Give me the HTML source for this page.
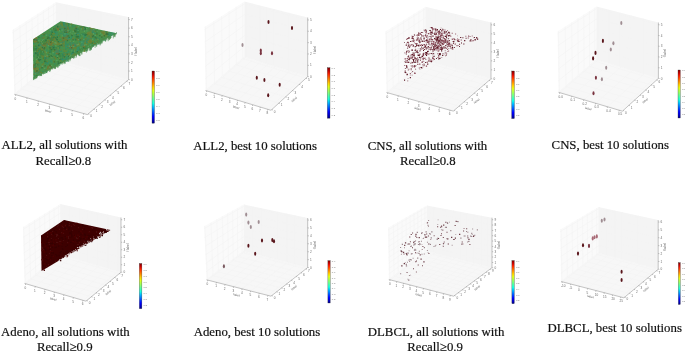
<!DOCTYPE html>
<html><head><meta charset="utf-8"><style>
html,body{margin:0;padding:0;background:#fff;}
body{width:685px;height:352px;overflow:hidden;position:relative;}
svg{position:absolute;left:0;top:0;filter:blur(0.45px);}
text{font-family:"Liberation Serif",serif;font-size:12.8px;fill:#111;stroke:#111;stroke-width:0.2px;}
g.tk text.cbt{font-size:2.5px;fill:#777;}
.tk text{font-family:"Liberation Sans",sans-serif;font-size:3.1px;fill:#6a6a6a;stroke:none;}
</style></head><body>
<svg width="685" height="352" viewBox="0 0 685 352">
<defs><filter id="soft" x="-5%" y="-5%" width="110%" height="110%"><feGaussianBlur stdDeviation="0.45"/></filter><linearGradient id="jet" x1="0" y1="1" x2="0" y2="0"><stop offset="0.000" stop-color="#00007f"/><stop offset="0.062" stop-color="#0000c7"/><stop offset="0.125" stop-color="#0000ff"/><stop offset="0.188" stop-color="#003fff"/><stop offset="0.250" stop-color="#007fff"/><stop offset="0.312" stop-color="#00bfff"/><stop offset="0.375" stop-color="#14ffe2"/><stop offset="0.438" stop-color="#47ffae"/><stop offset="0.500" stop-color="#7bff7b"/><stop offset="0.562" stop-color="#aeff47"/><stop offset="0.625" stop-color="#e2ff14"/><stop offset="0.688" stop-color="#ffd200"/><stop offset="0.750" stop-color="#ff9700"/><stop offset="0.812" stop-color="#ff5c00"/><stop offset="0.875" stop-color="#ff2100"/><stop offset="0.938" stop-color="#c70000"/><stop offset="1.000" stop-color="#7f0000"/></linearGradient></defs>
<polygon points="14.3,94.3 55.6,59.3 55.6,2.3 12.4,30" fill="#fafafa"/>
<polygon points="55.6,59.3 128.6,79.6 128.6,17 55.6,2.3" fill="#f4f4f4"/>
<polygon points="14.3,94.3 87.4,114.6 128.6,79.6 55.6,59.3" fill="#f7f7f7"/>
<path d="M15.8 94.7L57.1 59.7M56.9 59.7L56.9 2.6M27.1 97.9L68.4 62.9M67.4 62.6L67.4 4.7M38.4 101L79.7 66M78.2 65.6L78.2 6.9M49.8 104.1L91 69.1M89.3 68.7L89.3 9.1M61.1 107.3L102.3 72.3M100.7 71.8L100.7 11.4M72.4 110.4L113.6 75.4M112.5 75.1L112.5 13.8M83.7 113.6L125 78.6M124.6 78.5L124.6 16.2M15.1 93.6L88.2 113.9M15.2 93.5L13.4 29.4M20.6 88.9L93.7 109.2M21.4 88.3L19.9 25.2M26.1 84.3L99.2 104.6M27.3 83.3L26.1 21.2M31.6 79.6L104.7 99.9M33 78.5L32 17.4M37.1 75L110.1 95.3M38.5 73.8L37.8 13.7M42.6 70.3L115.6 90.6M43.8 69.3L43.3 10.2M48.1 65.7L121.1 86M48.9 65L48.6 6.8M53.5 61L126.5 81.3M53.8 60.8L53.7 3.5M14.3 94.3L55.6 59.3M55.6 59.3L128.6 79.6M14 85.8L55.6 51.7M55.6 51.5L128.6 71M13.8 77.2L55.6 44.1M55.6 43.7L128.6 62.4M13.5 68.5L55.6 36.4M55.6 35.8L128.6 53.8M13.3 59.7L55.6 28.6M55.6 28L128.6 45.3M13 50.8L55.6 20.7M55.6 20.2L128.6 36.7M12.7 41.8L55.6 12.7M55.6 12.4L128.6 28.1M12.5 32.7L55.6 4.7M55.6 4.6L128.6 19.5" stroke="#f3f3f3" stroke-width="0.6" fill="none"/>
<path d="M14.3 94.3L87.4 114.6L128.6 79.6L128.6 17M15.8 94.7l-0.3 1.2M27.1 97.9l-0.3 1.2M38.4 101l-0.3 1.2M49.8 104.1l-0.3 1.2M61.1 107.3l-0.3 1.2M72.4 110.4l-0.3 1.2M83.7 113.6l-0.3 1.2M88.2 113.9l1.1 0.4M93.7 109.2l1.1 0.4M99.2 104.6l1.1 0.4M104.7 99.9l1.1 0.4M110.1 95.3l1.1 0.4M115.6 90.6l1.1 0.4M121.1 86l1.1 0.4M126.5 81.3l1.1 0.4M128.6 79.6l1.2 0.1M128.6 71l1.2 0.1M128.6 62.4l1.2 0.1M128.6 53.8l1.2 0.1M128.6 45.3l1.2 0.1M128.6 36.7l1.2 0.1M128.6 28.1l1.2 0.1M128.6 19.5l1.2 0.1" stroke="#8a8a8a" stroke-width="0.5" fill="none"/>
<g class="tk"><text x="14.6" y="99.8">0</text><text x="25.9" y="103">1</text><text x="37.2" y="106.1">2</text><text x="48.6" y="109.2">3</text><text x="59.9" y="112.4">4</text><text x="71.2" y="115.5">5</text><text x="82.5" y="118.7">6</text><text x="90.2" y="117.1">0</text><text x="95.7" y="112.4">1</text><text x="101.2" y="107.8">2</text><text x="106.7" y="103.1">3</text><text x="112.1" y="98.5">4</text><text x="117.6" y="93.8">5</text><text x="123.1" y="89.2">6</text><text x="128.5" y="84.5">7</text><text x="131" y="80.7">0</text><text x="131" y="72.1">1</text><text x="131" y="63.5">2</text><text x="131" y="54.9">3</text><text x="131" y="46.4">4</text><text x="131" y="37.8">5</text><text x="131" y="29.2">6</text><text x="131" y="20.6">7</text><text x="44.7" y="111.9" transform="rotate(16 47.2 111.4)">label</text><text x="110" y="104.8" transform="rotate(-38 112 104.8)">label</text><text x="136.6" y="55.4" transform="rotate(-90 136.6 55.4)">f label</text></g>
<rect x="152" y="71" width="2.5" height="52.2" fill="url(#jet)" stroke="#333" stroke-width="0.3"/>
<g class="tk"><text class="cbt" x="156.1" y="72.4">0.9</text><text class="cbt" x="156.1" y="79.3">0.8</text><text class="cbt" x="156.1" y="86.2">0.7</text><text class="cbt" x="156.1" y="93.1">0.6</text><text class="cbt" x="156.1" y="99.9">0.5</text><text class="cbt" x="156.1" y="106.8">0.4</text><text class="cbt" x="156.1" y="113.7">0.3</text><text class="cbt" x="156.1" y="120.6">0.2</text></g>
<polygon points="205.5,90.5 244.5,56.8 244.5,1.5 204.5,27" fill="#fafafa"/>
<polygon points="244.5,56.8 307.7,76.6 307.7,17.5 244.5,1.5" fill="#f4f4f4"/>
<polygon points="205.5,90.5 271,110.3 307.7,76.6 244.5,56.8" fill="#f7f7f7"/>
<path d="M206.8 90.9L245.8 57.2M245.7 57.2L245.7 1.8M214.5 93.2L253.2 59.5M252.6 59.3L252.6 3.6M222.2 95.6L260.6 61.9M259.7 61.6L259.7 5.3M229.9 97.9L268 64.2M266.8 63.8L266.8 7.2M237.5 100.2L275.4 66.5M274.1 66.1L274.1 9M245.1 102.5L282.7 68.8M281.5 68.4L281.5 10.9M252.7 104.8L290 71.1M289 70.7L289 12.8M260.3 107.1L297.3 73.4M296.6 73.1L296.6 14.7M267.8 109.3L304.6 75.6M304.3 75.5L304.3 16.6M206.3 89.8L271.8 109.6M206.4 89.7L205.4 26.4M213.7 83.4L278.7 103.2M214.5 82.7L213.8 21.1M221 77.1L285.6 96.9M222.2 76.1L221.6 16.1M228.3 70.8L292.4 90.6M229.4 69.8L229.1 11.3M235.5 64.6L299.2 84.4M236.3 63.9L236.1 6.8M242.6 58.4L305.9 78.2M242.8 58.3L242.8 2.6M205.5 90.5L244.5 56.8M244.5 56.8L307.7 76.6M205.3 78.6L244.5 46.4M244.5 46.2L307.7 65.3M205.1 66.5L244.5 35.8M244.5 35.6L307.7 53.9M204.9 54.3L244.5 25.2M244.5 24.9L307.7 42.6M204.7 42L244.5 14.5M244.5 14.3L307.7 31.2M204.5 29.6L244.5 3.8M244.5 3.7L307.7 19.9" stroke="#f3f3f3" stroke-width="0.6" fill="none"/>
<path d="M205.5 90.5L271 110.3L307.7 76.6L307.7 17.5M206.8 90.9l-0.3 1.2M214.5 93.2l-0.3 1.2M222.2 95.6l-0.3 1.2M229.9 97.9l-0.3 1.2M237.5 100.2l-0.3 1.2M245.1 102.5l-0.3 1.2M252.7 104.8l-0.3 1.2M260.3 107.1l-0.3 1.2M267.8 109.3l-0.3 1.2M271.8 109.6l1.1 0.4M278.7 103.2l1.1 0.4M285.6 96.9l1.1 0.4M292.4 90.6l1.1 0.4M299.2 84.4l1.1 0.4M305.9 78.2l1.1 0.4M307.7 76.6l1.2 0.1M307.7 65.3l1.2 0.1M307.7 53.9l1.2 0.1M307.7 42.6l1.2 0.1M307.7 31.2l1.2 0.1M307.7 19.9l1.2 0.1" stroke="#8a8a8a" stroke-width="0.5" fill="none"/>
<g class="tk"><text x="205.6" y="96">0</text><text x="213.3" y="98.3">1</text><text x="221" y="100.7">2</text><text x="228.7" y="103">3</text><text x="236.3" y="105.3">4</text><text x="243.9" y="107.6">5</text><text x="251.5" y="109.9">6</text><text x="259.1" y="112.2">7</text><text x="266.6" y="114.4">8</text><text x="273.8" y="112.8">0</text><text x="280.7" y="106.4">1</text><text x="287.6" y="100.1">2</text><text x="294.4" y="93.8">3</text><text x="301.2" y="87.6">4</text><text x="307.9" y="81.4">5</text><text x="310.1" y="77.7">0</text><text x="310.1" y="66.4">1</text><text x="310.1" y="55">2</text><text x="310.1" y="43.7">3</text><text x="310.1" y="32.3">4</text><text x="310.1" y="21">5</text><text x="232.7" y="108" transform="rotate(16 235.2 107.5)">label</text><text x="291.8" y="100.9" transform="rotate(-38 293.8 100.9)">label</text><text x="315.7" y="54" transform="rotate(-90 315.7 54)">f label</text></g>
<rect x="327.3" y="67.7" width="2.7" height="50.5" fill="url(#jet)" stroke="#333" stroke-width="0.3"/>
<g class="tk"><text class="cbt" x="331.6" y="69.1">0.9</text><text class="cbt" x="331.6" y="75.7">0.8</text><text class="cbt" x="331.6" y="82.4">0.7</text><text class="cbt" x="331.6" y="89">0.6</text><text class="cbt" x="331.6" y="95.7">0.5</text><text class="cbt" x="331.6" y="102.3">0.4</text><text class="cbt" x="331.6" y="109">0.3</text><text class="cbt" x="331.6" y="115.6">0.2</text></g>
<polygon points="386.5,92.5 425.4,60.2 425.4,6.8 385.3,31.5" fill="#fafafa"/>
<polygon points="425.4,60.2 491,78.8 491,22.5 425.4,6.8" fill="#f4f4f4"/>
<polygon points="386.5,92.5 453.3,111.1 491,78.8 425.4,60.2" fill="#f7f7f7"/>
<path d="M387.8 92.9L426.7 60.6M426.6 60.6L426.6 7.1M398.3 95.8L437 63.5M436.4 63.3L436.4 9.4M408.7 98.7L447.2 66.4M446.3 66.1L446.3 11.8M419 101.6L457.3 69.3M456.4 69L456.4 14.2M429.4 104.4L467.5 72.1M466.6 71.9L466.6 16.7M439.7 107.3L477.6 75M477 74.8L477 19.1M450 110.2L487.7 77.9M487.6 77.8L487.6 21.7M387.3 91.8L454.1 110.4M387.4 91.8L386.2 30.9M392.5 87.5L459.1 106.1M393.2 86.9L392.2 27.2M397.7 83.2L464.2 101.8M398.8 82.3L398 23.7M402.9 78.9L469.2 97.5M404.2 77.8L403.6 20.3M408.1 74.6L474.2 93.2M409.3 73.5L408.9 17M413.2 70.3L479.2 88.9M414.3 69.4L414 13.8M418.4 66L484.2 84.6M419.1 65.4L418.9 10.8M423.5 61.8L489.1 80.4M423.7 61.6L423.7 7.9M386.5 92.5L425.4 60.2M425.4 60.2L491 78.8M386.3 83L425.4 51.8M425.4 51.7L491 69.8M386.1 73.4L425.4 43.4M425.4 43.1L491 60.8M385.9 63.7L425.4 34.9M425.4 34.6L491 51.8M385.7 53.9L425.4 26.3M425.4 26L491 42.8M385.5 44L425.4 17.7M425.4 17.5L491 33.8M385.3 34L425.4 9M425.4 8.9L491 24.8" stroke="#f3f3f3" stroke-width="0.6" fill="none"/>
<path d="M386.5 92.5L453.3 111.1L491 78.8L491 22.5M387.8 92.9l-0.3 1.2M398.3 95.8l-0.3 1.2M408.7 98.7l-0.3 1.2M419 101.6l-0.3 1.2M429.4 104.4l-0.3 1.2M439.7 107.3l-0.3 1.2M450 110.2l-0.3 1.2M454.1 110.4l1.1 0.4M459.1 106.1l1.1 0.4M464.2 101.8l1.1 0.4M469.2 97.5l1.1 0.4M474.2 93.2l1.1 0.4M479.2 88.9l1.1 0.4M484.2 84.6l1.1 0.4M489.1 80.4l1.1 0.4M491 78.8l1.2 0.1M491 69.8l1.2 0.1M491 60.8l1.2 0.1M491 51.8l1.2 0.1M491 42.8l1.2 0.1M491 33.8l1.2 0.1M491 24.8l1.2 0.1" stroke="#8a8a8a" stroke-width="0.5" fill="none"/>
<g class="tk"><text x="386.6" y="98">0</text><text x="397.1" y="100.9">1</text><text x="407.5" y="103.8">2</text><text x="417.8" y="106.7">3</text><text x="428.2" y="109.5">4</text><text x="438.5" y="112.4">5</text><text x="448.8" y="115.3">6</text><text x="456.1" y="113.6">0</text><text x="461.1" y="109.3">1</text><text x="466.2" y="105">2</text><text x="471.2" y="100.7">3</text><text x="476.2" y="96.4">4</text><text x="481.2" y="92.1">5</text><text x="486.2" y="87.8">6</text><text x="491.1" y="83.6">7</text><text x="493.4" y="79.9">0</text><text x="493.4" y="70.9">1</text><text x="493.4" y="61.9">2</text><text x="493.4" y="52.9">3</text><text x="493.4" y="43.9">4</text><text x="493.4" y="34.9">5</text><text x="493.4" y="25.9">6</text><text x="414.2" y="109.4" transform="rotate(16 416.7 108.9)">label</text><text x="474.4" y="102.5" transform="rotate(-38 476.4 102.5)">label</text><text x="499" y="57.5" transform="rotate(-90 499 57.5)">f label</text></g>
<rect x="511.7" y="71" width="2.7" height="47.6" fill="url(#jet)" stroke="#333" stroke-width="0.3"/>
<g class="tk"><text class="cbt" x="516" y="72.4">0.9</text><text class="cbt" x="516" y="78.6">0.8</text><text class="cbt" x="516" y="84.9">0.7</text><text class="cbt" x="516" y="91.1">0.6</text><text class="cbt" x="516" y="97.3">0.5</text><text class="cbt" x="516" y="103.5">0.4</text><text class="cbt" x="516" y="109.8">0.3</text><text class="cbt" x="516" y="116">0.2</text></g>
<polygon points="558.5,92.3 596.5,59.5 596.5,6.5 557.5,31.5" fill="#fafafa"/>
<polygon points="596.5,59.5 658.4,78.4 658.4,22.5 596.5,6.5" fill="#f4f4f4"/>
<polygon points="558.5,92.3 622.4,111.2 658.4,78.4 596.5,59.5" fill="#f7f7f7"/>
<path d="M559.8 92.7L597.8 59.9M597.7 59.9L597.7 6.8M571.8 96.2L609.4 63.4M608.7 63.2L608.7 9.7M583.8 99.8L621 67M620 66.7L620 12.6M595.6 103.3L632.5 70.5M631.5 70.2L631.5 15.5M607.5 106.8L643.9 74M643.2 73.8L643.2 18.6M619.2 110.3L655.3 77.5M655.1 77.4L655.1 21.7M559.3 91.6L623.1 110.5M559.4 91.5L558.4 30.9M565.3 86.4L628.8 105.3M566 85.8L565.2 26.6M571.2 81.3L634.5 100.2M572.3 80.4L571.7 22.4M577.2 76.2L640.1 95.1M578.3 75.2L577.9 18.4M583 71.1L645.6 90M584.1 70.2L583.8 14.6M588.9 66.1L651.2 85M589.6 65.5L589.4 11M594.6 61.1L656.6 80M594.8 60.9L594.8 7.6M558.5 92.3L596.5 59.5M596.5 59.5L658.4 78.4M558.3 80.9L596.5 49.5M596.5 49.3L658.4 67.7M558.1 69.3L596.5 39.4M596.5 39.1L658.4 56.9M557.9 57.7L596.5 29.3M596.5 29L658.4 46.2M557.7 45.9L596.5 19M596.5 18.8L658.4 35.5M557.5 34L596.5 8.7M596.5 8.6L658.4 24.7" stroke="#f3f3f3" stroke-width="0.6" fill="none"/>
<path d="M558.5 92.3L622.4 111.2L658.4 78.4L658.4 22.5M559.8 92.7l-0.3 1.2M571.8 96.2l-0.3 1.2M583.8 99.8l-0.3 1.2M595.6 103.3l-0.3 1.2M607.5 106.8l-0.3 1.2M619.2 110.3l-0.3 1.2M623.1 110.5l1.1 0.4M628.8 105.3l1.1 0.4M634.5 100.2l1.1 0.4M640.1 95.1l1.1 0.4M645.6 90l1.1 0.4M651.2 85l1.1 0.4M656.6 80l1.1 0.4M658.4 78.4l1.2 0.1M658.4 67.7l1.2 0.1M658.4 56.9l1.2 0.1M658.4 46.2l1.2 0.1M658.4 35.5l1.2 0.1M658.4 24.7l1.2 0.1" stroke="#8a8a8a" stroke-width="0.5" fill="none"/>
<g class="tk"><text x="558.6" y="97.8">0.0</text><text x="570.6" y="101.3">0.1</text><text x="582.6" y="104.9">0.2</text><text x="594.4" y="108.4">0.3</text><text x="606.3" y="111.9">0.4</text><text x="618" y="115.4">0.5</text><text x="625.1" y="113.7">0</text><text x="630.8" y="108.5">1</text><text x="636.5" y="103.4">2</text><text x="642.1" y="98.3">3</text><text x="647.6" y="93.2">4</text><text x="653.2" y="88.2">5</text><text x="658.6" y="83.2">6</text><text x="660.8" y="79.5">0</text><text x="660.8" y="68.8">1</text><text x="660.8" y="58">2</text><text x="660.8" y="47.3">3</text><text x="660.8" y="36.6">4</text><text x="660.8" y="25.8">5</text><text x="585" y="109.4" transform="rotate(16 587.5 108.9)">label</text><text x="642.8" y="102.2" transform="rotate(-38 644.8 102.2)">label</text><text x="666.4" y="57.2" transform="rotate(-90 666.4 57.2)">f label</text></g>
<rect x="678" y="70" width="2.3" height="48" fill="url(#jet)" stroke="#333" stroke-width="0.3"/>
<g class="tk"><text class="cbt" x="681.9" y="71.4">0.9</text><text class="cbt" x="681.9" y="77.7">0.8</text><text class="cbt" x="681.9" y="84">0.7</text><text class="cbt" x="681.9" y="90.3">0.6</text><text class="cbt" x="681.9" y="96.5">0.5</text><text class="cbt" x="681.9" y="102.8">0.4</text><text class="cbt" x="681.9" y="109.1">0.3</text><text class="cbt" x="681.9" y="115.4">0.2</text></g>
<polygon points="24.5,283.4 60.2,254.4 60.2,204 22.8,227.2" fill="#fafafa"/>
<polygon points="60.2,254.4 121,272.2 121,217.5 60.2,204" fill="#f4f4f4"/>
<polygon points="24.5,283.4 86,301.2 121,272.2 60.2,254.4" fill="#f7f7f7"/>
<path d="M25.7 283.8L61.4 254.8M61.3 254.7L61.3 204.2M35.3 286.5L70.9 257.5M70.1 257.3L70.1 206.2M44.9 289.3L80.3 260.3M79.2 260L79.2 208.2M54.4 292.1L89.8 263.1M88.4 262.7L88.4 210.3M63.9 294.8L99.2 265.8M98 265.5L98 212.4M73.4 297.6L108.6 268.6M107.7 268.3L107.7 214.5M82.9 300.3L118 271.3M117.7 271.2L117.7 216.8M25.2 282.8L86.7 300.6M25.3 282.7L23.7 226.7M30 278.9L91.4 296.7M30.6 278.5L29.2 223.2M34.8 275.1L96.1 292.9M35.7 274.3L34.5 219.9M39.5 271.2L100.7 289M40.6 270.4L39.7 216.7M44.3 267.3L105.4 285.1M45.3 266.5L44.6 213.6M49 263.5L110 281.3M49.9 262.8L49.4 210.7M53.7 259.7L114.6 277.5M54.3 259.2L54.1 207.8M58.4 255.8L119.3 273.6M58.6 255.7L58.6 205M24.5 283.4L60.2 254.4M60.2 254.4L121 272.2M24.3 276L60.2 247.7M60.2 247.5L121 264.7M24 268.5L60.2 241M60.2 240.6L121 257.2M23.8 260.9L60.2 234.2M60.2 233.7L121 249.7M23.6 253.2L60.2 227.3M60.2 226.8L121 242.2M23.4 245.4L60.2 220.3M60.2 219.8L121 234.7M23.1 237.5L60.2 213.2M60.2 212.9L121 227.2M22.9 229.6L60.2 206.1M60.2 206L121 219.7" stroke="#f3f3f3" stroke-width="0.6" fill="none"/>
<path d="M24.5 283.4L86 301.2L121 272.2L121 217.5M25.7 283.8l-0.3 1.2M35.3 286.5l-0.3 1.2M44.9 289.3l-0.3 1.2M54.4 292.1l-0.3 1.2M63.9 294.8l-0.3 1.2M73.4 297.6l-0.3 1.2M82.9 300.3l-0.3 1.2M86.7 300.6l1.1 0.4M91.4 296.7l1.1 0.4M96.1 292.9l1.1 0.4M100.7 289l1.1 0.4M105.4 285.1l1.1 0.4M110 281.3l1.1 0.4M114.6 277.5l1.1 0.4M119.3 273.6l1.1 0.4M121 272.2l1.2 0.1M121 264.7l1.2 0.1M121 257.2l1.2 0.1M121 249.7l1.2 0.1M121 242.2l1.2 0.1M121 234.7l1.2 0.1M121 227.2l1.2 0.1M121 219.7l1.2 0.1" stroke="#8a8a8a" stroke-width="0.5" fill="none"/>
<g class="tk"><text x="24.5" y="288.9">0</text><text x="34.1" y="291.6">1</text><text x="43.7" y="294.4">2</text><text x="53.2" y="297.2">3</text><text x="62.7" y="299.9">4</text><text x="72.2" y="302.7">5</text><text x="81.7" y="305.4">6</text><text x="88.7" y="303.8">0</text><text x="93.4" y="299.9">1</text><text x="98.1" y="296.1">2</text><text x="102.7" y="292.2">3</text><text x="107.4" y="288.3">4</text><text x="112" y="284.5">5</text><text x="116.6" y="280.7">6</text><text x="121.3" y="276.8">7</text><text x="123.4" y="273.3">0</text><text x="123.4" y="265.8">1</text><text x="123.4" y="258.3">2</text><text x="123.4" y="250.8">3</text><text x="123.4" y="243.3">4</text><text x="123.4" y="235.8">5</text><text x="123.4" y="228.3">6</text><text x="123.4" y="220.8">7</text><text x="49.8" y="299.9" transform="rotate(16 52.3 299.4)">label</text><text x="105.8" y="294.1" transform="rotate(-38 107.8 294.1)">label</text><text x="129" y="251.6" transform="rotate(-90 129 251.6)">f label</text></g>
<rect x="139.3" y="263.5" width="2.6" height="45.2" fill="url(#jet)" stroke="#333" stroke-width="0.3"/>
<g class="tk"><text class="cbt" x="143.5" y="264.9">0.9</text><text class="cbt" x="143.5" y="270.8">0.8</text><text class="cbt" x="143.5" y="276.7">0.7</text><text class="cbt" x="143.5" y="282.6">0.6</text><text class="cbt" x="143.5" y="288.4">0.5</text><text class="cbt" x="143.5" y="294.3">0.4</text><text class="cbt" x="143.5" y="300.2">0.3</text><text class="cbt" x="143.5" y="306.1">0.2</text></g>
<polygon points="206.5,279.8 243.7,251.1 243.7,204.4 204,226.3" fill="#fafafa"/>
<polygon points="243.7,251.1 307.7,267.5 307.7,218 243.7,204.4" fill="#f4f4f4"/>
<polygon points="206.5,279.8 271,296.2 307.7,267.5 243.7,251.1" fill="#f7f7f7"/>
<path d="M207.8 280.1L245 251.4M244.9 251.4L244.9 204.7M216.4 282.3L253.5 253.6M253 253.5L253 206.4M225 284.5L262 255.8M261.2 255.6L261.2 208.1M233.6 286.7L270.5 258M269.6 257.7L269.6 209.9M242.1 288.9L279 260.2M278.1 259.9L278.1 211.7M250.7 291L287.5 262.3M286.7 262.1L286.7 213.5M259.2 293.2L296 264.5M295.4 264.4L295.4 215.4M267.8 295.4L304.5 266.7M304.3 266.6L304.3 217.3M207.2 279.2L271.7 295.6M207.4 279.1L204.9 225.8M212.2 275.4L276.6 291.8M213 274.8L211 222.4M217.2 271.6L281.5 288M218.4 270.6L216.8 219.2M222.1 267.7L286.4 284.1M223.5 266.6L222.3 216.2M227.1 263.9L291.3 280.3M228.5 262.8L227.6 213.3M232 260.1L296.2 276.5M233.2 259.2L232.6 210.5M236.9 256.3L301 272.7M237.7 255.7L237.4 207.9M241.9 252.5L305.9 268.9M242.1 252.3L242 205.3M206.5 279.8L243.7 251.1M243.7 251.1L307.7 267.5M206.1 271.7L243.7 244M243.7 243.6L307.7 259.6M205.7 263.4L243.7 236.7M243.7 236.2L307.7 251.7M205.3 255L243.7 229.3M243.7 228.7L307.7 243.7M204.9 246.4L243.7 221.8M243.7 221.2L307.7 235.8M204.5 237.6L243.7 214.2M243.7 213.7L307.7 227.9M204.1 228.6L243.7 206.4M243.7 206.3L307.7 220" stroke="#f3f3f3" stroke-width="0.6" fill="none"/>
<path d="M206.5 279.8L271 296.2L307.7 267.5L307.7 218M207.8 280.1l-0.3 1.2M216.4 282.3l-0.3 1.2M225 284.5l-0.3 1.2M233.6 286.7l-0.3 1.2M242.1 288.9l-0.3 1.2M250.7 291l-0.3 1.2M259.2 293.2l-0.3 1.2M267.8 295.4l-0.3 1.2M271.7 295.6l1.1 0.4M276.6 291.8l1.1 0.4M281.5 288l1.1 0.4M286.4 284.1l1.1 0.4M291.3 280.3l1.1 0.4M296.2 276.5l1.1 0.4M301 272.7l1.1 0.4M305.9 268.9l1.1 0.4M307.7 267.5l1.2 0.1M307.7 259.6l1.2 0.1M307.7 251.7l1.2 0.1M307.7 243.7l1.2 0.1M307.7 235.8l1.2 0.1M307.7 227.9l1.2 0.1M307.7 220l1.2 0.1" stroke="#8a8a8a" stroke-width="0.5" fill="none"/>
<g class="tk"><text x="206.6" y="285.2">0</text><text x="215.2" y="287.4">1</text><text x="223.8" y="289.6">2</text><text x="232.4" y="291.8">3</text><text x="240.9" y="294">4</text><text x="249.5" y="296.1">5</text><text x="258" y="298.3">6</text><text x="266.6" y="300.5">7</text><text x="273.7" y="298.8">0</text><text x="278.6" y="295">1</text><text x="283.5" y="291.2">2</text><text x="288.4" y="287.3">3</text><text x="293.3" y="283.5">4</text><text x="298.2" y="279.7">5</text><text x="303" y="275.9">6</text><text x="307.9" y="272.1">7</text><text x="310.1" y="268.6">0</text><text x="310.1" y="260.7">1</text><text x="310.1" y="252.8">2</text><text x="310.1" y="244.8">3</text><text x="310.1" y="236.9">4</text><text x="310.1" y="229">5</text><text x="310.1" y="221.1">6</text><text x="233.1" y="295.7" transform="rotate(16 235.6 295.2)">label</text><text x="291.6" y="289.2" transform="rotate(-38 293.6 289.2)">label</text><text x="315.7" y="249.2" transform="rotate(-90 315.7 249.2)">f label</text></g>
<rect x="327.9" y="260.6" width="2.3" height="42.4" fill="url(#jet)" stroke="#333" stroke-width="0.3"/>
<g class="tk"><text class="cbt" x="331.8" y="262">0.9</text><text class="cbt" x="331.8" y="267.5">0.8</text><text class="cbt" x="331.8" y="273">0.7</text><text class="cbt" x="331.8" y="278.5">0.6</text><text class="cbt" x="331.8" y="283.9">0.5</text><text class="cbt" x="331.8" y="289.4">0.4</text><text class="cbt" x="331.8" y="294.9">0.3</text><text class="cbt" x="331.8" y="300.4">0.2</text></g>
<polygon points="388.8,279.5 426.7,251 426.7,205.4 388,227.8" fill="#fafafa"/>
<polygon points="426.7,251 492,267.7 492,217.7 426.7,205.4" fill="#f4f4f4"/>
<polygon points="388.8,279.5 453.6,296.2 492,267.7 426.7,251" fill="#f7f7f7"/>
<path d="M390.1 279.8L428 251.3M427.9 251.3L427.9 205.6M396.8 281.6L434.7 253.1M434.1 252.9L434.1 206.8M403.5 283.3L441.5 254.8M440.5 254.5L440.5 208M410.1 285L448.2 256.5M446.9 256.2L446.9 209.2M416.8 286.7L454.9 258.2M453.5 257.9L453.5 210.5M423.5 288.4L461.7 259.9M460.2 259.6L460.2 211.7M430.2 290.2L468.4 261.7M467.1 261.3L467.1 213M436.9 291.9L475.2 263.4M474.1 263.1L474.1 214.3M443.6 293.6L482 265.1M481.2 264.9L481.2 215.7M450.3 295.4L488.7 266.9M488.4 266.8L488.4 217M389.6 278.9L454.4 295.6M389.7 278.8L388.9 227.3M393.5 276L458.3 292.7M394.1 275.5L393.4 224.7M397.4 273.1L462.3 289.8M398.3 272.3L397.7 222.2M401.3 270.1L466.2 286.8M402.5 269.2L402 219.7M405.2 267.2L470.2 283.9M406.5 266.2L406.1 217.3M409.1 264.2L474.2 280.9M410.4 263.3L410.1 215M413 261.3L478.1 278M414.2 260.4L414 212.8M416.9 258.3L482.1 275M417.9 257.6L417.7 210.6M420.9 255.4L486.1 272.1M421.5 254.9L421.4 208.5M424.8 252.4L490.1 269.1M425 252.3L425 206.4M388.8 279.5L426.7 251M426.7 251L492 267.7M388.7 274.1L426.7 246.2M426.7 246.1L492 262.4M388.6 268.7L426.7 241.4M426.7 241.3L492 257M388.5 263.2L426.7 236.6M426.7 236.4L492 251.7M388.5 257.7L426.7 231.7M426.7 231.5L492 246.4M388.4 252.2L426.7 226.9M426.7 226.7L492 241M388.3 246.7L426.7 222M426.7 221.8L492 235.7M388.2 241.1L426.7 217.1M426.7 217L492 230.4M388.1 235.5L426.7 212.2M426.7 212.1L492 225M388 229.9L426.7 207.3M426.7 207.2L492 219.7" stroke="#f3f3f3" stroke-width="0.6" fill="none"/>
<path d="M388.8 279.5L453.6 296.2L492 267.7L492 217.7M390.1 279.8l-0.3 1.2M396.8 281.6l-0.3 1.2M403.5 283.3l-0.3 1.2M410.1 285l-0.3 1.2M416.8 286.7l-0.3 1.2M423.5 288.4l-0.3 1.2M430.2 290.2l-0.3 1.2M436.9 291.9l-0.3 1.2M443.6 293.6l-0.3 1.2M450.3 295.4l-0.3 1.2M454.4 295.6l1.1 0.4M458.3 292.7l1.1 0.4M462.3 289.8l1.1 0.4M466.2 286.8l1.1 0.4M470.2 283.9l1.1 0.4M474.2 280.9l1.1 0.4M478.1 278l1.1 0.4M482.1 275l1.1 0.4M486.1 272.1l1.1 0.4M490.1 269.1l1.1 0.4M492 267.7l1.2 0.1M492 262.4l1.2 0.1M492 257l1.2 0.1M492 251.7l1.2 0.1M492 246.4l1.2 0.1M492 241l1.2 0.1M492 235.7l1.2 0.1M492 230.4l1.2 0.1M492 225l1.2 0.1M492 219.7l1.2 0.1" stroke="#8a8a8a" stroke-width="0.5" fill="none"/>
<g class="tk"><text x="388.9" y="284.9">0</text><text x="395.6" y="286.7">1</text><text x="402.3" y="288.4">2</text><text x="408.9" y="290.1">3</text><text x="415.6" y="291.8">4</text><text x="422.3" y="293.5">5</text><text x="429" y="295.3">6</text><text x="435.7" y="297">7</text><text x="442.4" y="298.7">8</text><text x="449.1" y="300.5">9</text><text x="456.4" y="298.8">0</text><text x="460.3" y="295.9">1</text><text x="464.3" y="293">2</text><text x="468.2" y="290">3</text><text x="472.2" y="287.1">4</text><text x="476.2" y="284.1">5</text><text x="480.1" y="281.2">6</text><text x="484.1" y="278.2">7</text><text x="488.1" y="275.3">8</text><text x="492.1" y="272.3">9</text><text x="494.4" y="268.8">0</text><text x="494.4" y="263.5">1</text><text x="494.4" y="258.1">2</text><text x="494.4" y="252.8">3</text><text x="494.4" y="247.5">4</text><text x="494.4" y="242.1">5</text><text x="494.4" y="236.8">6</text><text x="494.4" y="231.5">7</text><text x="494.4" y="226.1">8</text><text x="494.4" y="220.8">9</text><text x="415.4" y="295.5" transform="rotate(16 417.9 295)">label</text><text x="474.8" y="289.4" transform="rotate(-38 476.8 289.4)">label</text><text x="500" y="249.2" transform="rotate(-90 500 249.2)">f label</text></g>
<rect x="511.9" y="260.5" width="2.4" height="43.2" fill="url(#jet)" stroke="#333" stroke-width="0.3"/>
<g class="tk"><text class="cbt" x="515.9" y="261.9">0.9</text><text class="cbt" x="515.9" y="267.5">0.8</text><text class="cbt" x="515.9" y="273.1">0.7</text><text class="cbt" x="515.9" y="278.7">0.6</text><text class="cbt" x="515.9" y="284.3">0.5</text><text class="cbt" x="515.9" y="289.9">0.4</text><text class="cbt" x="515.9" y="295.5">0.3</text><text class="cbt" x="515.9" y="301.1">0.2</text></g>
<polygon points="561,281.5 598.4,253 598.4,207 560.2,229.5" fill="#fafafa"/>
<polygon points="598.4,253 658.2,269.3 658.2,220 598.4,207" fill="#f4f4f4"/>
<polygon points="561,281.5 623.9,297.8 658.2,269.3 598.4,253" fill="#f7f7f7"/>
<path d="M562.3 281.8L599.6 253.3M599.5 253.3L599.5 207.2M570.8 284L607.7 255.5M607 255.3L607 208.9M579.3 286.2L615.7 257.7M614.7 257.4L614.7 210.5M587.7 288.4L623.7 259.9M622.4 259.5L622.4 212.2M596 290.6L631.7 262.1M630.3 261.7L630.3 213.9M604.3 292.7L639.6 264.2M638.4 263.9L638.4 215.7M612.6 294.9L647.5 266.4M646.6 266.1L646.6 217.5M620.8 297L655.3 268.5M655 268.4L655 219.3M561.8 280.9L624.6 297.2M561.9 280.9L561.1 229M566.9 277L629.3 293.3M567.4 276.6L566.7 225.7M572 273.1L634 289.4M572.7 272.6L572.2 222.4M577 269.3L638.6 285.6M577.9 268.6L577.4 219.3M582 265.5L643.1 281.8M582.8 264.9L582.5 216.4M586.9 261.8L647.6 278.1M587.6 261.2L587.4 213.5M591.8 258.1L652.1 274.4M592.3 257.7L592.1 210.7M596.6 254.4L656.5 270.7M596.8 254.3L596.7 208M561 281.5L598.4 253M598.4 253L658.2 269.3M560.9 273.3L598.4 245.8M598.4 245.6L658.2 261.4M560.7 265.1L598.4 238.5M598.4 238.3L658.2 253.5M560.6 256.8L598.4 231.1M598.4 230.9L658.2 245.6M560.5 248.5L598.4 223.8M598.4 223.6L658.2 237.7M560.4 240.1L598.4 216.3M598.4 216.2L658.2 229.9M560.2 231.6L598.4 208.9M598.4 208.8L658.2 222" stroke="#f3f3f3" stroke-width="0.6" fill="none"/>
<path d="M561 281.5L623.9 297.8L658.2 269.3L658.2 220M562.3 281.8l-0.3 1.2M570.8 284l-0.3 1.2M579.3 286.2l-0.3 1.2M587.7 288.4l-0.3 1.2M596 290.6l-0.3 1.2M604.3 292.7l-0.3 1.2M612.6 294.9l-0.3 1.2M620.8 297l-0.3 1.2M624.6 297.2l1.1 0.4M629.3 293.3l1.1 0.4M634 289.4l1.1 0.4M638.6 285.6l1.1 0.4M643.1 281.8l1.1 0.4M647.6 278.1l1.1 0.4M652.1 274.4l1.1 0.4M656.5 270.7l1.1 0.4M658.2 269.3l1.2 0.1M658.2 261.4l1.2 0.1M658.2 253.5l1.2 0.1M658.2 245.6l1.2 0.1M658.2 237.7l1.2 0.1M658.2 229.9l1.2 0.1M658.2 222l1.2 0.1" stroke="#8a8a8a" stroke-width="0.5" fill="none"/>
<g class="tk"><text x="561.1" y="286.9">-10</text><text x="569.6" y="289.1">-5</text><text x="578.1" y="291.3">0</text><text x="586.5" y="293.5">5</text><text x="594.8" y="295.7">10</text><text x="603.1" y="297.8">15</text><text x="611.4" y="300">20</text><text x="619.6" y="302.1">25</text><text x="626.6" y="300.4">0</text><text x="631.3" y="296.5">1</text><text x="636" y="292.6">2</text><text x="640.6" y="288.8">3</text><text x="645.1" y="285">4</text><text x="649.6" y="281.3">5</text><text x="654.1" y="277.6">6</text><text x="658.5" y="273.9">7</text><text x="660.6" y="270.4">0</text><text x="660.6" y="262.5">1</text><text x="660.6" y="254.6">2</text><text x="660.6" y="246.7">3</text><text x="660.6" y="238.8">4</text><text x="660.6" y="231">5</text><text x="660.6" y="223.1">6</text><text x="587.1" y="297.4" transform="rotate(16 589.6 296.9)">label</text><text x="643.7" y="290.7" transform="rotate(-38 645.7 290.7)">label</text><text x="666.2" y="251.1" transform="rotate(-90 666.2 251.1)">f label</text></g>
<rect x="678.3" y="262.6" width="2" height="41.9" fill="url(#jet)" stroke="#333" stroke-width="0.3"/>
<g class="tk"><text class="cbt" x="681.9" y="264">0.9</text><text class="cbt" x="681.9" y="269.4">0.8</text><text class="cbt" x="681.9" y="274.8">0.7</text><text class="cbt" x="681.9" y="280.2">0.6</text><text class="cbt" x="681.9" y="285.7">0.5</text><text class="cbt" x="681.9" y="291.1">0.4</text><text class="cbt" x="681.9" y="296.5">0.3</text><text class="cbt" x="681.9" y="301.9">0.2</text></g>
<g filter="url(#soft)"><polygon points="33,39.3 60.5,21.3 116.5,33.2 33.3,78.8" fill="#48904c"/><clipPath id="cp1"><polygon points="33,39.3 60.5,21.3 116.5,33.2 33.3,78.8"/></clipPath><g clip-path="url(#cp1)"><g fill="#7e8030" opacity="0.6"><ellipse cx="42.4" cy="48.7" rx="2.2" ry="2.5"/><ellipse cx="105.3" cy="33.4" rx="3" ry="3.2"/><ellipse cx="63" cy="30.8" rx="1.3" ry="1.9"/><ellipse cx="89.3" cy="40.9" rx="2.7" ry="2.3"/><ellipse cx="63.4" cy="55.1" rx="1.3" ry="1.6"/><ellipse cx="41.9" cy="46.6" rx="2.7" ry="1.9"/><ellipse cx="61.1" cy="26.3" rx="2.6" ry="3.2"/><ellipse cx="44.1" cy="39.7" rx="1.5" ry="1.3"/><ellipse cx="56.8" cy="49.1" rx="2.3" ry="2.2"/><ellipse cx="42.8" cy="65.9" rx="2.2" ry="2"/><ellipse cx="103.7" cy="32.6" rx="2.7" ry="1.4"/><ellipse cx="37.1" cy="70.7" rx="2.4" ry="3.4"/><ellipse cx="92.1" cy="28.9" rx="2.9" ry="1.5"/><ellipse cx="83.7" cy="45.4" rx="2.3" ry="1.3"/><ellipse cx="42" cy="43.4" rx="1.3" ry="2.5"/><ellipse cx="37.6" cy="62.1" rx="2.3" ry="2.4"/><ellipse cx="75.9" cy="28.9" rx="1.9" ry="2.9"/><ellipse cx="89.5" cy="34.2" rx="3" ry="2.7"/><ellipse cx="84.9" cy="41.9" rx="1.8" ry="2.6"/><ellipse cx="61.9" cy="43.8" rx="2.7" ry="2.7"/><ellipse cx="94.4" cy="44.3" rx="1.3" ry="1.7"/><ellipse cx="54.1" cy="37.4" rx="1.7" ry="1.7"/><ellipse cx="92.6" cy="30.6" rx="2.4" ry="3.4"/><ellipse cx="66" cy="24.5" rx="1.9" ry="1.9"/><ellipse cx="68.6" cy="55" rx="1.3" ry="2.8"/><ellipse cx="56.7" cy="43.1" rx="2" ry="1.9"/><ellipse cx="64.7" cy="28.7" rx="1.5" ry="1.8"/><ellipse cx="89.1" cy="37.8" rx="2.6" ry="2.5"/><ellipse cx="53" cy="41.8" rx="3" ry="3.1"/><ellipse cx="75.5" cy="55.6" rx="1.9" ry="1.9"/><ellipse cx="78.1" cy="44.2" rx="1.9" ry="1.6"/><ellipse cx="50.7" cy="39" rx="2.3" ry="3.3"/><ellipse cx="45.6" cy="57.3" rx="2.6" ry="2.9"/></g><g fill="#8a682a" opacity="0.6"><ellipse cx="78.2" cy="39.4" rx="1.5" ry="1.4"/><ellipse cx="66.5" cy="29.6" rx="3" ry="3.4"/><ellipse cx="66.6" cy="37.4" rx="1.4" ry="3.1"/><ellipse cx="74.2" cy="45.5" rx="3" ry="2.3"/><ellipse cx="57.6" cy="52.3" rx="1.8" ry="2.9"/><ellipse cx="34.2" cy="66.9" rx="2.2" ry="2.8"/><ellipse cx="44.1" cy="46.5" rx="2.3" ry="2.3"/><ellipse cx="84.4" cy="46.3" rx="1.4" ry="1.6"/><ellipse cx="46.2" cy="43.1" rx="2.8" ry="1.5"/><ellipse cx="63.2" cy="39.4" rx="1.7" ry="2.9"/><ellipse cx="52.2" cy="46.3" rx="1.8" ry="1.2"/><ellipse cx="71.3" cy="46.6" rx="2.6" ry="3.4"/><ellipse cx="49.5" cy="68" rx="2.4" ry="3.2"/><ellipse cx="35.2" cy="39.4" rx="2.1" ry="2.8"/><ellipse cx="50.1" cy="43.1" rx="2.4" ry="2.9"/><ellipse cx="57.6" cy="27.9" rx="1.8" ry="2.9"/></g><g fill="#2f8e70" opacity="0.6"><ellipse cx="59.2" cy="49.4" rx="1.3" ry="3.4"/><ellipse cx="112.3" cy="32.6" rx="2.9" ry="3.4"/><ellipse cx="61.6" cy="41.9" rx="2.6" ry="1.4"/><ellipse cx="66.7" cy="35" rx="2.7" ry="2.2"/><ellipse cx="70.6" cy="49.8" rx="2.1" ry="1.9"/><ellipse cx="56.3" cy="49.7" rx="2.4" ry="1.9"/><ellipse cx="78.4" cy="35.8" rx="2" ry="3.1"/><ellipse cx="61.9" cy="59" rx="2.7" ry="2"/><ellipse cx="93.6" cy="31.1" rx="2.2" ry="2.7"/><ellipse cx="67.9" cy="57.8" rx="2.3" ry="2.9"/><ellipse cx="51.2" cy="61.5" rx="1.3" ry="2.3"/><ellipse cx="71.6" cy="43.4" rx="2.3" ry="1.7"/><ellipse cx="64" cy="23.1" rx="1.4" ry="2.5"/><ellipse cx="63.7" cy="29.4" rx="2.2" ry="3.4"/><ellipse cx="68.9" cy="37.9" rx="2.8" ry="1.5"/><ellipse cx="72.7" cy="53.4" rx="1.8" ry="1.6"/><ellipse cx="84.5" cy="36.5" rx="1.7" ry="2.9"/><ellipse cx="47.9" cy="63.1" rx="1.4" ry="2.7"/><ellipse cx="36.3" cy="73.5" rx="2.6" ry="1.2"/><ellipse cx="88.5" cy="38.2" rx="2.5" ry="1.6"/><ellipse cx="75.2" cy="44.7" rx="1.4" ry="1.9"/><ellipse cx="77.8" cy="49.7" rx="1.9" ry="2.6"/><ellipse cx="58.9" cy="26.2" rx="2.7" ry="1.9"/><ellipse cx="77" cy="31.1" rx="2" ry="3.4"/><ellipse cx="56" cy="32.9" rx="1.8" ry="2.9"/><ellipse cx="63.1" cy="56" rx="2.1" ry="1.9"/><ellipse cx="62.5" cy="55.2" rx="2.5" ry="1.9"/><ellipse cx="65.1" cy="27.4" rx="2.2" ry="2.8"/><ellipse cx="46.9" cy="58.3" rx="1.6" ry="1.3"/><ellipse cx="67.6" cy="46.1" rx="2.8" ry="1.9"/><ellipse cx="42.6" cy="54.2" rx="1.5" ry="1.6"/><ellipse cx="109.9" cy="34.5" rx="2.7" ry="2.3"/><ellipse cx="40" cy="44.8" rx="1.9" ry="1.5"/><ellipse cx="82.6" cy="43.1" rx="2.1" ry="3.4"/><ellipse cx="57.1" cy="50.4" rx="2.6" ry="2.5"/></g><g fill="#3a7e3e" opacity="0.6"><ellipse cx="35.4" cy="48.5" rx="2.4" ry="3.3"/><ellipse cx="96.6" cy="30.4" rx="1.4" ry="2.6"/><ellipse cx="34.9" cy="65.2" rx="1.2" ry="3"/><ellipse cx="61.3" cy="57" rx="1.8" ry="3.3"/><ellipse cx="45.4" cy="61.7" rx="1.5" ry="1.3"/><ellipse cx="68" cy="24.3" rx="1.3" ry="2.3"/><ellipse cx="76.9" cy="30.8" rx="2.9" ry="2.3"/><ellipse cx="61.2" cy="55.3" rx="2.7" ry="2.2"/><ellipse cx="44.7" cy="58.1" rx="1.9" ry="2.2"/><ellipse cx="51.8" cy="38.2" rx="1.9" ry="3.4"/><ellipse cx="77.2" cy="37.2" rx="2.6" ry="1.8"/><ellipse cx="55.2" cy="30.1" rx="1.7" ry="2.6"/><ellipse cx="54" cy="47.9" rx="2.8" ry="2.5"/><ellipse cx="85.5" cy="49.4" rx="1.9" ry="2.1"/><ellipse cx="82.3" cy="35.1" rx="2.1" ry="1.9"/><ellipse cx="86.6" cy="46.4" rx="1.2" ry="1.3"/><ellipse cx="36.7" cy="53.4" rx="2.1" ry="2"/><ellipse cx="42" cy="53" rx="2.3" ry="3.2"/><ellipse cx="58.5" cy="47.5" rx="1.6" ry="1.5"/><ellipse cx="43.8" cy="42.1" rx="2.9" ry="2.6"/><ellipse cx="82.5" cy="27.1" rx="2" ry="1.3"/><ellipse cx="80.9" cy="49.4" rx="1.9" ry="1.7"/><ellipse cx="66.3" cy="29.4" rx="2.1" ry="1.3"/><ellipse cx="50.3" cy="51.5" rx="1.6" ry="3.4"/><ellipse cx="56.3" cy="56.7" rx="1.5" ry="1.3"/><ellipse cx="38.1" cy="49.6" rx="2.9" ry="1.9"/></g></g><path d="M39.1 37h1.3v1.3h-1.3zM72.2 26h1.3v1.3h-1.3zM51 45.9h1.3v1.3h-1.3zM82.7 29h1.3v1.3h-1.3zM65 41.4h1.3v1.3h-1.3zM43 65.5h1.3v1.3h-1.3zM45.9 33.8h1.3v1.3h-1.3zM111.6 33.1h1.3v1.3h-1.3zM102.4 38.3h1.3v1.3h-1.3zM96.9 40.8h1.3v1.3h-1.3zM38.2 38.8h1.3v1.3h-1.3zM41.6 45.6h1.3v1.3h-1.3zM41.5 66.4h1.3v1.3h-1.3zM78 46.8h1.3v1.3h-1.3zM76.9 29.2h1.3v1.3h-1.3zM46.5 62.2h1.3v1.3h-1.3zM37.4 63.5h1.3v1.3h-1.3zM46.2 50.2h1.3v1.3h-1.3zM77.4 49.2h1.3v1.3h-1.3zM52 37.2h1.3v1.3h-1.3zM34.2 66.2h1.3v1.3h-1.3zM72.6 51.8h1.3v1.3h-1.3zM93.5 43.9h1.3v1.3h-1.3zM70.4 45.1h1.3v1.3h-1.3zM68.3 27.2h1.3v1.3h-1.3zM43.2 51.6h1.3v1.3h-1.3zM38.9 60.8h1.3v1.3h-1.3zM40.3 41.2h1.3v1.3h-1.3zM35.8 47.9h1.3v1.3h-1.3zM71 37.4h1.3v1.3h-1.3zM36.8 50.5h1.3v1.3h-1.3zM58.9 35.6h1.3v1.3h-1.3zM54.2 31h1.3v1.3h-1.3zM54.6 48h1.3v1.3h-1.3zM98.6 38.4h1.3v1.3h-1.3zM33.7 55.5h1.3v1.3h-1.3zM87.4 39.4h1.3v1.3h-1.3zM74.4 38.4h1.3v1.3h-1.3zM79 39h1.3v1.3h-1.3zM53.3 45.9h1.3v1.3h-1.3zM76.3 42.6h1.3v1.3h-1.3zM89 40.9h1.3v1.3h-1.3zM59 50.1h1.3v1.3h-1.3zM57.2 63.1h1.3v1.3h-1.3zM82.3 33.3h1.3v1.3h-1.3zM38.3 51.8h1.3v1.3h-1.3zM61.9 41.4h1.3v1.3h-1.3zM68.5 32.5h1.3v1.3h-1.3zM61.9 45.3h1.3v1.3h-1.3zM49.1 45.6h1.3v1.3h-1.3zM54.8 25.5h1.3v1.3h-1.3zM80.8 27.8h1.3v1.3h-1.3zM93.7 41.6h1.3v1.3h-1.3zM96.4 43.8h1.3v1.3h-1.3zM90.8 37.1h1.3v1.3h-1.3zM81.2 38.8h1.3v1.3h-1.3zM85.1 45.1h1.3v1.3h-1.3zM89.6 43.8h1.3v1.3h-1.3zM38.8 71.1h1.3v1.3h-1.3zM82 29.8h1.3v1.3h-1.3zM33.1 43.1h1.3v1.3h-1.3zM55.7 56.1h1.3v1.3h-1.3zM48.3 46.5h1.3v1.3h-1.3zM53.7 40.8h1.3v1.3h-1.3zM57.1 36h1.3v1.3h-1.3zM42.5 46.9h1.3v1.3h-1.3zM71.5 52.9h1.3v1.3h-1.3zM91.7 46.3h1.3v1.3h-1.3zM79.3 36.2h1.3v1.3h-1.3zM53.8 28.5h1.3v1.3h-1.3zM94.8 32.4h1.3v1.3h-1.3zM86.2 40.4h1.3v1.3h-1.3zM88.4 35.4h1.3v1.3h-1.3zM70.5 35.1h1.3v1.3h-1.3zM74.5 25.4h1.3v1.3h-1.3zM74.3 28.8h1.3v1.3h-1.3zM66 28h1.3v1.3h-1.3zM105.3 31.1h1.3v1.3h-1.3zM45.1 69.5h1.3v1.3h-1.3zM49.4 49.9h1.3v1.3h-1.3zM62.5 56.4h1.3v1.3h-1.3zM55.1 45h1.3v1.3h-1.3zM61.5 62h1.3v1.3h-1.3zM72.1 38.1h1.3v1.3h-1.3zM69.1 35h1.3v1.3h-1.3zM60.5 28.3h1.3v1.3h-1.3zM37.6 53h1.3v1.3h-1.3zM59.2 28h1.3v1.3h-1.3zM66.6 55.3h1.3v1.3h-1.3zM61.9 58.7h1.3v1.3h-1.3zM73.3 50h1.3v1.3h-1.3zM49.2 29.9h1.3v1.3h-1.3zM72.2 52.3h1.3v1.3h-1.3zM35.7 48.7h1.3v1.3h-1.3zM69.4 41.2h1.3v1.3h-1.3zM93 44.6h1.3v1.3h-1.3zM93.7 38.3h1.3v1.3h-1.3zM60.6 30h1.3v1.3h-1.3zM35.2 39.1h1.3v1.3h-1.3zM65.1 48.5h1.3v1.3h-1.3zM97.2 38.5h1.3v1.3h-1.3zM75.2 45h1.3v1.3h-1.3zM63.4 24.4h1.3v1.3h-1.3zM58 34.3h1.3v1.3h-1.3zM38.9 50h1.3v1.3h-1.3zM44.8 63.3h1.3v1.3h-1.3zM49.5 51.8h1.3v1.3h-1.3zM60.8 50.6h1.3v1.3h-1.3zM57.2 54.2h1.3v1.3h-1.3zM56 54.6h1.3v1.3h-1.3zM35.4 41.7h1.3v1.3h-1.3zM54.1 63.2h1.3v1.3h-1.3zM70.9 35.7h1.3v1.3h-1.3zM86.2 39.7h1.3v1.3h-1.3zM61.4 54.1h1.3v1.3h-1.3zM48 41.2h1.3v1.3h-1.3zM58.9 64.5h1.3v1.3h-1.3zM44 57.1h1.3v1.3h-1.3zM45.4 33.9h1.3v1.3h-1.3zM91 35h1.3v1.3h-1.3zM106 34.1h1.3v1.3h-1.3zM54.3 47.7h1.3v1.3h-1.3zM71.1 51h1.3v1.3h-1.3zM37.5 45.8h1.3v1.3h-1.3zM81.7 26.1h1.3v1.3h-1.3zM45.7 71.8h1.3v1.3h-1.3zM38.9 69h1.3v1.3h-1.3zM57.7 26.3h1.3v1.3h-1.3zM58.2 23.5h1.3v1.3h-1.3zM68 51.1h1.3v1.3h-1.3zM63.1 35.2h1.3v1.3h-1.3zM35.9 46.4h1.3v1.3h-1.3zM49.9 40h1.3v1.3h-1.3zM80.5 33.7h1.3v1.3h-1.3zM49.5 61h1.3v1.3h-1.3zM60.2 58.7h1.3v1.3h-1.3zM67.3 43.6h1.3v1.3h-1.3zM86.6 41.9h1.3v1.3h-1.3zM63.4 51.8h1.3v1.3h-1.3zM44 32.5h1.3v1.3h-1.3zM91.3 34.6h1.3v1.3h-1.3zM65.3 56.9h1.3v1.3h-1.3zM52.3 52.9h1.3v1.3h-1.3zM91.9 31.8h1.3v1.3h-1.3zM34 52.9h1.3v1.3h-1.3zM72 51.5h1.3v1.3h-1.3zM36 54.2h1.3v1.3h-1.3zM85.9 41.8h1.3v1.3h-1.3zM61.7 57h1.3v1.3h-1.3zM50.4 34.8h1.3v1.3h-1.3zM42.2 70.9h1.3v1.3h-1.3zM90.4 47.3h1.3v1.3h-1.3zM44.5 61.7h1.3v1.3h-1.3zM69.5 30.3h1.3v1.3h-1.3zM67.8 52.2h1.3v1.3h-1.3zM54.5 32.3h1.3v1.3h-1.3zM96.5 37.1h1.3v1.3h-1.3zM101.3 39.5h1.3v1.3h-1.3zM71 52.9h1.3v1.3h-1.3zM74.2 26.4h1.3v1.3h-1.3zM71.8 25.3h1.3v1.3h-1.3zM44.5 39.1h1.3v1.3h-1.3zM103.7 39.5h1.3v1.3h-1.3zM41.7 61.7h1.3v1.3h-1.3zM66 60.4h1.3v1.3h-1.3zM57.3 26.4h1.3v1.3h-1.3zM60.7 40.1h1.3v1.3h-1.3zM33.6 46.5h1.3v1.3h-1.3zM41.8 37h1.3v1.3h-1.3zM52.5 43.4h1.3v1.3h-1.3zM68.7 28h1.3v1.3h-1.3zM46.7 43.1h1.3v1.3h-1.3zM45.9 70.6h1.3v1.3h-1.3zM53.8 53.2h1.3v1.3h-1.3zM66.3 52.2h1.3v1.3h-1.3zM66 30.8h1.3v1.3h-1.3zM104.9 39.5h1.3v1.3h-1.3zM85.6 41.2h1.3v1.3h-1.3zM44.5 55.6h1.3v1.3h-1.3zM41.2 34.9h1.3v1.3h-1.3zM68.5 30.1h1.3v1.3h-1.3zM60.5 32.7h1.3v1.3h-1.3zM35.8 51.7h1.3v1.3h-1.3zM94.3 35.4h1.3v1.3h-1.3zM64 53.2h1.3v1.3h-1.3zM65.6 23.4h1.3v1.3h-1.3zM41.9 66.6h1.3v1.3h-1.3zM70 44.2h1.3v1.3h-1.3zM65.3 43.1h1.3v1.3h-1.3zM74.5 45.6h1.3v1.3h-1.3zM48.6 34.6h1.3v1.3h-1.3zM48.8 38.1h1.3v1.3h-1.3zM46.2 49.3h1.3v1.3h-1.3zM48.9 37.5h1.3v1.3h-1.3zM62.4 43.4h1.3v1.3h-1.3zM73.7 34.4h1.3v1.3h-1.3zM53.6 57.8h1.3v1.3h-1.3zM50.8 31.2h1.3v1.3h-1.3zM44 58.1h1.3v1.3h-1.3zM67.1 47h1.3v1.3h-1.3zM65 28.6h1.3v1.3h-1.3zM75.9 33.4h1.3v1.3h-1.3zM39 68.5h1.3v1.3h-1.3zM58.7 41.2h1.3v1.3h-1.3zM62.7 33.5h1.3v1.3h-1.3zM43.1 48h1.3v1.3h-1.3zM63 23.5h1.3v1.3h-1.3zM89.5 29.1h1.3v1.3h-1.3zM84.7 39.2h1.3v1.3h-1.3zM72.7 49.5h1.3v1.3h-1.3zM52 47.2h1.3v1.3h-1.3zM79.9 43.9h1.3v1.3h-1.3zM49.1 35.7h1.3v1.3h-1.3zM73.1 53h1.3v1.3h-1.3zM61.8 52.9h1.3v1.3h-1.3zM34 74.5h1.3v1.3h-1.3zM34.4 65.7h1.3v1.3h-1.3zM88.8 27.5h1.3v1.3h-1.3zM37.9 64.8h1.3v1.3h-1.3zM51.4 30.5h1.3v1.3h-1.3zM43.6 32.7h1.3v1.3h-1.3zM83.2 34.7h1.3v1.3h-1.3zM67.6 24.1h1.3v1.3h-1.3zM36.5 47h1.3v1.3h-1.3zM81.8 40.3h1.3v1.3h-1.3zM38 71.5h1.3v1.3h-1.3zM47.1 54.6h1.3v1.3h-1.3zM39.8 59.5h1.3v1.3h-1.3zM81.1 27.2h1.3v1.3h-1.3zM79.1 40.9h1.3v1.3h-1.3zM64.6 56.7h1.3v1.3h-1.3zM81.3 39.5h1.3v1.3h-1.3zM64.8 58.9h1.3v1.3h-1.3zM83.4 40.5h1.3v1.3h-1.3zM68.4 57.9h1.3v1.3h-1.3zM42.6 51h1.3v1.3h-1.3zM69.9 40.2h1.3v1.3h-1.3zM75.4 50.9h1.3v1.3h-1.3zM67.6 50.8h1.3v1.3h-1.3zM66.9 59.9h1.3v1.3h-1.3zM59.3 39.1h1.3v1.3h-1.3zM62.2 21.9h1.3v1.3h-1.3zM45.7 70h1.3v1.3h-1.3zM48 68.6h1.3v1.3h-1.3zM40.2 59.1h1.3v1.3h-1.3zM53.4 55.4h1.3v1.3h-1.3zM82.9 37.3h1.3v1.3h-1.3z" fill="#2e8a66" opacity="0.8"/><path d="M33.4 66.2h1.3v1.3h-1.3zM71 43.6h1.3v1.3h-1.3zM71 25.4h1.3v1.3h-1.3zM42.2 59h1.3v1.3h-1.3zM80.2 36.5h1.3v1.3h-1.3zM93.7 28.9h1.3v1.3h-1.3zM44.5 41.7h1.3v1.3h-1.3zM80 33.2h1.3v1.3h-1.3zM62.3 25.7h1.3v1.3h-1.3zM45 36.8h1.3v1.3h-1.3zM54.6 45.1h1.3v1.3h-1.3zM35.2 54.3h1.3v1.3h-1.3zM68.5 33.3h1.3v1.3h-1.3zM80.6 50.5h1.3v1.3h-1.3zM94.8 36.1h1.3v1.3h-1.3zM81.2 35.9h1.3v1.3h-1.3zM44 45.8h1.3v1.3h-1.3zM61.2 26.9h1.3v1.3h-1.3zM33.3 46.3h1.3v1.3h-1.3zM90.2 33.8h1.3v1.3h-1.3zM69.8 32.3h1.3v1.3h-1.3zM63.1 29.5h1.3v1.3h-1.3zM47.2 46.2h1.3v1.3h-1.3zM101.3 34.5h1.3v1.3h-1.3zM75.6 48.7h1.3v1.3h-1.3zM45.5 37.4h1.3v1.3h-1.3zM57.1 26.4h1.3v1.3h-1.3zM41.2 71.9h1.3v1.3h-1.3zM74.7 41.5h1.3v1.3h-1.3zM84.1 44.9h1.3v1.3h-1.3zM82 31.3h1.3v1.3h-1.3zM60.6 61.9h1.3v1.3h-1.3zM47.7 49h1.3v1.3h-1.3zM69.3 57.2h1.3v1.3h-1.3zM97.6 39.1h1.3v1.3h-1.3zM98.4 34h1.3v1.3h-1.3zM39.7 35.6h1.3v1.3h-1.3zM82.2 40h1.3v1.3h-1.3zM48.5 48.5h1.3v1.3h-1.3zM40.9 64.8h1.3v1.3h-1.3zM44.1 47.3h1.3v1.3h-1.3zM55.4 30.5h1.3v1.3h-1.3zM69.7 36.2h1.3v1.3h-1.3zM60.5 61.4h1.3v1.3h-1.3zM95.6 34.4h1.3v1.3h-1.3zM60.3 36.3h1.3v1.3h-1.3zM72.7 27.9h1.3v1.3h-1.3zM36.6 73.8h1.3v1.3h-1.3zM33.5 39.1h1.3v1.3h-1.3zM68.4 51.7h1.3v1.3h-1.3zM51.7 51.5h1.3v1.3h-1.3zM62.8 38.6h1.3v1.3h-1.3zM83.4 50.7h1.3v1.3h-1.3zM34.7 61.5h1.3v1.3h-1.3zM34.9 60.6h1.3v1.3h-1.3zM44.5 70.1h1.3v1.3h-1.3zM59.7 36.6h1.3v1.3h-1.3zM74.2 45.9h1.3v1.3h-1.3zM52 64.1h1.3v1.3h-1.3zM100.8 40.3h1.3v1.3h-1.3zM61.7 35.3h1.3v1.3h-1.3zM74 25.3h1.3v1.3h-1.3zM49.3 64.1h1.3v1.3h-1.3zM51.4 53.2h1.3v1.3h-1.3zM109 36.4h1.3v1.3h-1.3zM55.3 45.6h1.3v1.3h-1.3zM58.5 60.2h1.3v1.3h-1.3zM55.2 45.9h1.3v1.3h-1.3zM52.3 35.7h1.3v1.3h-1.3zM83.5 37.4h1.3v1.3h-1.3zM75.1 30.5h1.3v1.3h-1.3zM64.9 54h1.3v1.3h-1.3zM47.6 52.9h1.3v1.3h-1.3zM57.7 48.8h1.3v1.3h-1.3zM89.5 36.3h1.3v1.3h-1.3zM44.8 64.6h1.3v1.3h-1.3zM50.2 62.7h1.3v1.3h-1.3zM41.7 61.3h1.3v1.3h-1.3zM68.7 50h1.3v1.3h-1.3zM71.6 40.2h1.3v1.3h-1.3zM84.9 43.5h1.3v1.3h-1.3zM78.1 53.2h1.3v1.3h-1.3zM57.7 31.1h1.3v1.3h-1.3zM103.7 35.4h1.3v1.3h-1.3zM55.8 65.8h1.3v1.3h-1.3zM61.4 30h1.3v1.3h-1.3zM56.4 39.3h1.3v1.3h-1.3zM75.6 42.3h1.3v1.3h-1.3zM49.8 67.2h1.3v1.3h-1.3zM53.4 32.7h1.3v1.3h-1.3zM77.2 33.9h1.3v1.3h-1.3zM85 50h1.3v1.3h-1.3zM85.7 46.2h1.3v1.3h-1.3zM42.7 53.2h1.3v1.3h-1.3zM43 46.3h1.3v1.3h-1.3zM84.6 32.7h1.3v1.3h-1.3zM55.5 33.5h1.3v1.3h-1.3zM75.3 42.7h1.3v1.3h-1.3zM98.8 32.2h1.3v1.3h-1.3zM81.1 52.3h1.3v1.3h-1.3zM60.5 23.5h1.3v1.3h-1.3zM35.2 58.6h1.3v1.3h-1.3zM109.5 32.5h1.3v1.3h-1.3zM68.5 32h1.3v1.3h-1.3zM35.3 64.2h1.3v1.3h-1.3zM54.2 41.1h1.3v1.3h-1.3zM80 37.5h1.3v1.3h-1.3zM92.2 45.6h1.3v1.3h-1.3zM66.8 25.1h1.3v1.3h-1.3zM56.6 64.7h1.3v1.3h-1.3zM52.9 50h1.3v1.3h-1.3zM45.9 53.2h1.3v1.3h-1.3zM98.2 32.3h1.3v1.3h-1.3zM38.8 38.7h1.3v1.3h-1.3zM58.8 33.7h1.3v1.3h-1.3zM105.7 34.4h1.3v1.3h-1.3zM80.8 49h1.3v1.3h-1.3zM57 26.5h1.3v1.3h-1.3zM60.8 54.5h1.3v1.3h-1.3zM69.8 29.2h1.3v1.3h-1.3zM105.6 32.4h1.3v1.3h-1.3zM66.5 54.9h1.3v1.3h-1.3zM47.5 41.7h1.3v1.3h-1.3zM33.8 44.6h1.3v1.3h-1.3zM60.6 57.2h1.3v1.3h-1.3zM72.4 29.4h1.3v1.3h-1.3zM49.3 61.6h1.3v1.3h-1.3zM52.5 56.8h1.3v1.3h-1.3zM64.8 56.7h1.3v1.3h-1.3zM77.6 36.7h1.3v1.3h-1.3zM39.3 38.5h1.3v1.3h-1.3zM68.2 57.4h1.3v1.3h-1.3zM60.6 56.9h1.3v1.3h-1.3zM105.7 33.2h1.3v1.3h-1.3zM64.4 31.5h1.3v1.3h-1.3zM35.6 73.6h1.3v1.3h-1.3zM59.3 51.8h1.3v1.3h-1.3zM73.6 54.1h1.3v1.3h-1.3zM70.3 51.6h1.3v1.3h-1.3zM39.8 40.9h1.3v1.3h-1.3zM56.3 55.5h1.3v1.3h-1.3zM85.7 35.9h1.3v1.3h-1.3zM60.5 60.1h1.3v1.3h-1.3zM59.5 40.6h1.3v1.3h-1.3zM97.8 41.4h1.3v1.3h-1.3zM44.6 71h1.3v1.3h-1.3zM52.7 27.6h1.3v1.3h-1.3zM35.3 54.5h1.3v1.3h-1.3zM48.7 57h1.3v1.3h-1.3zM49.2 42.9h1.3v1.3h-1.3zM55.5 25.9h1.3v1.3h-1.3zM35 57.9h1.3v1.3h-1.3zM79.9 42.7h1.3v1.3h-1.3zM50.5 45.7h1.3v1.3h-1.3zM96.6 29.1h1.3v1.3h-1.3zM41.2 66.1h1.3v1.3h-1.3zM35.4 44h1.3v1.3h-1.3zM60.2 30.4h1.3v1.3h-1.3zM94.9 31.8h1.3v1.3h-1.3zM61.2 56.1h1.3v1.3h-1.3zM92.4 33.8h1.3v1.3h-1.3zM69.2 35.5h1.3v1.3h-1.3zM70.3 34.6h1.3v1.3h-1.3zM73 46.2h1.3v1.3h-1.3zM55.2 65.6h1.3v1.3h-1.3zM56.1 56.5h1.3v1.3h-1.3zM85.3 31.3h1.3v1.3h-1.3zM39.2 56.2h1.3v1.3h-1.3zM41.2 69.3h1.3v1.3h-1.3zM55.6 57.2h1.3v1.3h-1.3zM33.3 59.8h1.3v1.3h-1.3zM60 39.7h1.3v1.3h-1.3zM36.4 48.5h1.3v1.3h-1.3zM87.3 43.2h1.3v1.3h-1.3zM58.6 25.3h1.3v1.3h-1.3zM73 33.5h1.3v1.3h-1.3zM85.6 31.3h1.3v1.3h-1.3zM70.9 50.2h1.3v1.3h-1.3zM98.1 40.5h1.3v1.3h-1.3zM52.7 28.7h1.3v1.3h-1.3zM41.4 70.3h1.3v1.3h-1.3zM47 47h1.3v1.3h-1.3zM56.5 48.2h1.3v1.3h-1.3zM71.8 48.9h1.3v1.3h-1.3zM45.3 38h1.3v1.3h-1.3zM86.1 27.1h1.3v1.3h-1.3zM57.7 36.3h1.3v1.3h-1.3zM48.3 68.4h1.3v1.3h-1.3zM43.1 39h1.3v1.3h-1.3zM82.4 36.3h1.3v1.3h-1.3zM54 36.6h1.3v1.3h-1.3zM43.8 63.8h1.3v1.3h-1.3zM101.4 41.2h1.3v1.3h-1.3zM87 49.1h1.3v1.3h-1.3zM75.3 50.3h1.3v1.3h-1.3zM106.7 34.9h1.3v1.3h-1.3zM69.2 39.6h1.3v1.3h-1.3zM77.8 51.1h1.3v1.3h-1.3zM65.6 37.8h1.3v1.3h-1.3zM35.8 76.8h1.3v1.3h-1.3zM61.1 22.5h1.3v1.3h-1.3zM74.2 36.9h1.3v1.3h-1.3zM54.2 59.5h1.3v1.3h-1.3zM105.5 34.3h1.3v1.3h-1.3zM39.4 59.6h1.3v1.3h-1.3zM43.7 63.4h1.3v1.3h-1.3zM35 47h1.3v1.3h-1.3zM47.6 64.9h1.3v1.3h-1.3zM37.8 41.6h1.3v1.3h-1.3zM42.1 58.7h1.3v1.3h-1.3zM69.5 49.7h1.3v1.3h-1.3zM77.7 42.9h1.3v1.3h-1.3zM49.2 52.5h1.3v1.3h-1.3zM43.8 39.2h1.3v1.3h-1.3zM83.3 26.8h1.3v1.3h-1.3zM39.5 47.3h1.3v1.3h-1.3zM40.3 35h1.3v1.3h-1.3zM66.4 23.6h1.3v1.3h-1.3zM84.1 49.2h1.3v1.3h-1.3zM55.5 28.6h1.3v1.3h-1.3zM43.7 34h1.3v1.3h-1.3zM43.1 68.3h1.3v1.3h-1.3zM94.9 41h1.3v1.3h-1.3zM58.3 48.7h1.3v1.3h-1.3zM73.3 27.1h1.3v1.3h-1.3zM49.8 46.3h1.3v1.3h-1.3zM54.5 47.7h1.3v1.3h-1.3zM66.7 55.4h1.3v1.3h-1.3zM101.4 37.7h1.3v1.3h-1.3zM78.6 50.4h1.3v1.3h-1.3zM60.3 36.5h1.3v1.3h-1.3zM42.7 41.5h1.3v1.3h-1.3zM61.2 39.3h1.3v1.3h-1.3zM53.4 55.8h1.3v1.3h-1.3zM51.7 44.6h1.3v1.3h-1.3zM45.9 32.3h1.3v1.3h-1.3zM59.1 61.1h1.3v1.3h-1.3zM68.7 30.5h1.3v1.3h-1.3zM57.8 26.2h1.3v1.3h-1.3zM45.1 46.9h1.3v1.3h-1.3zM33.3 55.3h1.3v1.3h-1.3zM60.2 53.1h1.3v1.3h-1.3zM38.1 60.2h1.3v1.3h-1.3zM85.7 44.6h1.3v1.3h-1.3zM33.6 46.6h1.3v1.3h-1.3zM95.2 28.9h1.3v1.3h-1.3zM67.4 32.8h1.3v1.3h-1.3zM44.1 35.3h1.3v1.3h-1.3zM50.3 53.4h1.3v1.3h-1.3zM88 37h1.3v1.3h-1.3zM55.5 28.3h1.3v1.3h-1.3zM40.5 46.1h1.3v1.3h-1.3zM72.3 56h1.3v1.3h-1.3zM34.2 62.9h1.3v1.3h-1.3zM86.1 34.9h1.3v1.3h-1.3z" fill="#4a9448" opacity="0.8"/><path d="M67.9 35h1.3v1.3h-1.3zM72 37.9h1.3v1.3h-1.3zM63.6 49.2h1.3v1.3h-1.3zM57.7 47.6h1.3v1.3h-1.3zM39.4 47.5h1.3v1.3h-1.3zM84.9 43.9h1.3v1.3h-1.3zM37.3 64.6h1.3v1.3h-1.3zM81.9 27.9h1.3v1.3h-1.3zM38.5 48.2h1.3v1.3h-1.3zM55 58.1h1.3v1.3h-1.3zM44.1 33h1.3v1.3h-1.3zM96.4 40.9h1.3v1.3h-1.3zM89.1 41.1h1.3v1.3h-1.3zM87 43.7h1.3v1.3h-1.3zM69.1 39.1h1.3v1.3h-1.3zM63.3 26.6h1.3v1.3h-1.3zM77.6 34h1.3v1.3h-1.3zM82.3 26.6h1.3v1.3h-1.3zM97.6 39.3h1.3v1.3h-1.3zM58.4 42.5h1.3v1.3h-1.3zM85 37.8h1.3v1.3h-1.3zM66.4 36.1h1.3v1.3h-1.3zM53.2 50.5h1.3v1.3h-1.3zM79.2 43.6h1.3v1.3h-1.3zM52 33.1h1.3v1.3h-1.3zM81.5 37.6h1.3v1.3h-1.3zM42.9 55.9h1.3v1.3h-1.3zM58.1 54h1.3v1.3h-1.3zM72 56.5h1.3v1.3h-1.3zM62.2 62h1.3v1.3h-1.3zM73.3 29.8h1.3v1.3h-1.3zM36.7 50.8h1.3v1.3h-1.3zM91.4 34.6h1.3v1.3h-1.3zM40 66.9h1.3v1.3h-1.3zM74 50.1h1.3v1.3h-1.3zM53 60.4h1.3v1.3h-1.3zM53.7 38.3h1.3v1.3h-1.3zM84 49.1h1.3v1.3h-1.3zM71.1 34h1.3v1.3h-1.3zM48.2 55.3h1.3v1.3h-1.3zM72.1 54.2h1.3v1.3h-1.3zM96 33.7h1.3v1.3h-1.3zM47.1 42.2h1.3v1.3h-1.3zM60.2 60.2h1.3v1.3h-1.3zM65.3 28.4h1.3v1.3h-1.3zM89.5 36.7h1.3v1.3h-1.3zM89.1 39.7h1.3v1.3h-1.3zM33.7 73.8h1.3v1.3h-1.3zM63.9 52.7h1.3v1.3h-1.3zM43.9 47.1h1.3v1.3h-1.3zM90.9 36.7h1.3v1.3h-1.3zM84.1 42.8h1.3v1.3h-1.3zM34.5 41h1.3v1.3h-1.3zM58.1 43.7h1.3v1.3h-1.3zM45.6 69.3h1.3v1.3h-1.3zM96.2 38.3h1.3v1.3h-1.3zM60 49.3h1.3v1.3h-1.3zM75.1 32.4h1.3v1.3h-1.3zM89.7 46h1.3v1.3h-1.3zM50.4 34.9h1.3v1.3h-1.3zM53.8 61.5h1.3v1.3h-1.3zM40.8 42.9h1.3v1.3h-1.3zM91.1 41h1.3v1.3h-1.3zM54.5 57.8h1.3v1.3h-1.3zM102.4 32.2h1.3v1.3h-1.3zM54.6 49.4h1.3v1.3h-1.3zM36.2 70.2h1.3v1.3h-1.3zM42.6 58.8h1.3v1.3h-1.3zM85.4 38.3h1.3v1.3h-1.3zM74.7 47.2h1.3v1.3h-1.3zM77.4 43.9h1.3v1.3h-1.3zM54.3 57h1.3v1.3h-1.3zM35.5 70.4h1.3v1.3h-1.3zM94.4 30.8h1.3v1.3h-1.3zM64.5 54.9h1.3v1.3h-1.3zM100.5 31.1h1.3v1.3h-1.3zM44.7 52.3h1.3v1.3h-1.3zM52.6 41h1.3v1.3h-1.3zM94.2 43.1h1.3v1.3h-1.3zM63.6 60.5h1.3v1.3h-1.3zM67.5 27.9h1.3v1.3h-1.3zM42.3 51.2h1.3v1.3h-1.3zM56.9 44.3h1.3v1.3h-1.3zM60.7 41h1.3v1.3h-1.3zM43.3 36.8h1.3v1.3h-1.3zM41.1 72.1h1.3v1.3h-1.3zM70.9 23.5h1.3v1.3h-1.3zM67.1 45.7h1.3v1.3h-1.3zM41.3 54.9h1.3v1.3h-1.3zM76.4 37.9h1.3v1.3h-1.3zM53.7 66.7h1.3v1.3h-1.3zM39.4 71.2h1.3v1.3h-1.3zM70.4 41.2h1.3v1.3h-1.3zM63.5 50.8h1.3v1.3h-1.3zM83.6 50.6h1.3v1.3h-1.3zM50.6 42.1h1.3v1.3h-1.3zM80.9 39.2h1.3v1.3h-1.3zM46.9 40.2h1.3v1.3h-1.3zM61.2 22.2h1.3v1.3h-1.3zM90.7 41.8h1.3v1.3h-1.3zM87.5 33.4h1.3v1.3h-1.3zM62.9 57h1.3v1.3h-1.3zM52.9 28.4h1.3v1.3h-1.3zM89.4 27.6h1.3v1.3h-1.3zM63.8 60.3h1.3v1.3h-1.3zM82 29.1h1.3v1.3h-1.3zM48.5 64.6h1.3v1.3h-1.3zM58.8 39.4h1.3v1.3h-1.3zM36.2 41.1h1.3v1.3h-1.3zM65.4 53.8h1.3v1.3h-1.3zM46.8 60.9h1.3v1.3h-1.3zM63.6 38.8h1.3v1.3h-1.3zM37.1 45.9h1.3v1.3h-1.3zM77.7 51.4h1.3v1.3h-1.3zM101.3 35.4h1.3v1.3h-1.3zM48.6 69.2h1.3v1.3h-1.3zM40.4 40.9h1.3v1.3h-1.3zM113.9 34.1h1.3v1.3h-1.3zM33.7 40.9h1.3v1.3h-1.3zM51.1 35.9h1.3v1.3h-1.3zM95.2 42.5h1.3v1.3h-1.3zM62.2 40.3h1.3v1.3h-1.3zM90.1 42.2h1.3v1.3h-1.3zM59.5 36.6h1.3v1.3h-1.3zM49.1 64.8h1.3v1.3h-1.3zM46.7 37.8h1.3v1.3h-1.3zM53.5 56.1h1.3v1.3h-1.3zM51.4 57.3h1.3v1.3h-1.3zM47.4 52.1h1.3v1.3h-1.3zM62.7 42.6h1.3v1.3h-1.3zM63.4 45.8h1.3v1.3h-1.3zM72.3 48h1.3v1.3h-1.3zM59.2 26.7h1.3v1.3h-1.3zM35.3 40.6h1.3v1.3h-1.3zM79.8 38.9h1.3v1.3h-1.3zM37.6 42.3h1.3v1.3h-1.3zM73 38h1.3v1.3h-1.3zM58 34.8h1.3v1.3h-1.3zM44.1 51.1h1.3v1.3h-1.3zM66.6 35.7h1.3v1.3h-1.3zM42.5 63h1.3v1.3h-1.3zM64.4 38.5h1.3v1.3h-1.3zM53.7 32.9h1.3v1.3h-1.3zM92.5 42.4h1.3v1.3h-1.3zM89.8 46.7h1.3v1.3h-1.3zM106.1 34.1h1.3v1.3h-1.3zM75.2 48.3h1.3v1.3h-1.3zM34.3 41.9h1.3v1.3h-1.3zM93 41h1.3v1.3h-1.3zM66.7 23.8h1.3v1.3h-1.3zM58 57.5h1.3v1.3h-1.3zM102.5 38.8h1.3v1.3h-1.3zM43.4 61.5h1.3v1.3h-1.3zM92.9 28.4h1.3v1.3h-1.3zM36.4 51h1.3v1.3h-1.3zM65.5 50.5h1.3v1.3h-1.3zM50.8 47.4h1.3v1.3h-1.3zM58.7 58.2h1.3v1.3h-1.3zM41.7 56.5h1.3v1.3h-1.3zM48.6 40.3h1.3v1.3h-1.3zM72.4 38.3h1.3v1.3h-1.3zM97.6 42.2h1.3v1.3h-1.3zM42.3 33.7h1.3v1.3h-1.3zM41.9 37.5h1.3v1.3h-1.3zM47.3 68h1.3v1.3h-1.3zM37.1 49.3h1.3v1.3h-1.3zM33.4 45.2h1.3v1.3h-1.3zM61.3 23.3h1.3v1.3h-1.3zM38.8 52.6h1.3v1.3h-1.3zM80.5 26.2h1.3v1.3h-1.3zM73.4 52.9h1.3v1.3h-1.3zM57.8 24.2h1.3v1.3h-1.3zM90.7 34.3h1.3v1.3h-1.3zM73 55.6h1.3v1.3h-1.3z" fill="#6e8030" opacity="0.8"/><path d="M57.6 40.9h1.3v1.3h-1.3zM40.6 42h1.3v1.3h-1.3zM68.6 36.7h1.3v1.3h-1.3zM57.8 53.6h1.3v1.3h-1.3zM54.9 37.3h1.3v1.3h-1.3zM94.5 36.5h1.3v1.3h-1.3zM53.4 36.5h1.3v1.3h-1.3zM38.8 58.9h1.3v1.3h-1.3zM92.5 45.2h1.3v1.3h-1.3zM70.1 57.6h1.3v1.3h-1.3zM86 49.8h1.3v1.3h-1.3zM103.8 35.1h1.3v1.3h-1.3zM63.9 56.2h1.3v1.3h-1.3zM38.1 36.4h1.3v1.3h-1.3zM71 46.9h1.3v1.3h-1.3zM53.8 61.2h1.3v1.3h-1.3zM48.9 52.5h1.3v1.3h-1.3zM66.8 39.9h1.3v1.3h-1.3zM89.9 47.7h1.3v1.3h-1.3zM56.7 36.6h1.3v1.3h-1.3zM43.9 46.9h1.3v1.3h-1.3zM84.9 27.6h1.3v1.3h-1.3zM33.9 39h1.3v1.3h-1.3zM59.3 58.4h1.3v1.3h-1.3zM72.4 51.8h1.3v1.3h-1.3zM56 38.6h1.3v1.3h-1.3zM45.4 39.6h1.3v1.3h-1.3zM55.3 29.5h1.3v1.3h-1.3zM41.7 46.9h1.3v1.3h-1.3zM72.5 39.2h1.3v1.3h-1.3zM49.3 64.6h1.3v1.3h-1.3zM35.2 52.6h1.3v1.3h-1.3zM106 32.4h1.3v1.3h-1.3zM64.2 27.7h1.3v1.3h-1.3zM76.4 36.1h1.3v1.3h-1.3zM95.9 42.7h1.3v1.3h-1.3zM84.5 28.7h1.3v1.3h-1.3zM50.5 55.1h1.3v1.3h-1.3zM38.4 59.7h1.3v1.3h-1.3zM49.4 47.1h1.3v1.3h-1.3zM71.4 34.7h1.3v1.3h-1.3zM44.2 60.6h1.3v1.3h-1.3zM65.5 31.8h1.3v1.3h-1.3zM67.5 35.2h1.3v1.3h-1.3zM44.5 65.1h1.3v1.3h-1.3zM43.4 34.3h1.3v1.3h-1.3zM57.8 62.9h1.3v1.3h-1.3zM43.5 48.2h1.3v1.3h-1.3zM86.1 33.9h1.3v1.3h-1.3zM71.5 35h1.3v1.3h-1.3zM38.1 44.8h1.3v1.3h-1.3zM37.4 41.4h1.3v1.3h-1.3zM35.6 48.3h1.3v1.3h-1.3zM84.5 33.5h1.3v1.3h-1.3zM37.3 54.4h1.3v1.3h-1.3zM51.6 31.8h1.3v1.3h-1.3zM75.1 39.3h1.3v1.3h-1.3zM57 26.1h1.3v1.3h-1.3zM77.7 36.2h1.3v1.3h-1.3zM36.2 75.3h1.3v1.3h-1.3zM53.4 67.3h1.3v1.3h-1.3zM41.4 67.1h1.3v1.3h-1.3zM57.6 61.2h1.3v1.3h-1.3zM82.9 47.1h1.3v1.3h-1.3zM101.2 36.4h1.3v1.3h-1.3zM99.1 34.9h1.3v1.3h-1.3zM74.1 30.1h1.3v1.3h-1.3zM92.7 35.1h1.3v1.3h-1.3zM53 46.9h1.3v1.3h-1.3zM42.4 51.3h1.3v1.3h-1.3zM39.8 58.9h1.3v1.3h-1.3zM35.4 63.5h1.3v1.3h-1.3zM71.1 34.1h1.3v1.3h-1.3zM50.8 49h1.3v1.3h-1.3zM36.1 70.4h1.3v1.3h-1.3zM92.1 35.9h1.3v1.3h-1.3zM75.5 34h1.3v1.3h-1.3zM108.4 36.1h1.3v1.3h-1.3zM50.5 66.4h1.3v1.3h-1.3zM58.8 52.9h1.3v1.3h-1.3zM38.3 45.8h1.3v1.3h-1.3zM40.2 74.1h1.3v1.3h-1.3zM75.5 27.6h1.3v1.3h-1.3zM56.8 56.8h1.3v1.3h-1.3zM54 49.3h1.3v1.3h-1.3zM75 30.8h1.3v1.3h-1.3zM33.8 77h1.3v1.3h-1.3zM58.4 62.4h1.3v1.3h-1.3zM105.5 33.8h1.3v1.3h-1.3zM95.4 37.5h1.3v1.3h-1.3zM42.5 38.7h1.3v1.3h-1.3zM36.5 70.2h1.3v1.3h-1.3zM50.8 33.4h1.3v1.3h-1.3zM38 58.6h1.3v1.3h-1.3zM56.6 39.1h1.3v1.3h-1.3zM107.1 33.2h1.3v1.3h-1.3zM51.7 56.2h1.3v1.3h-1.3zM50 41.7h1.3v1.3h-1.3zM47.4 36.4h1.3v1.3h-1.3zM84.6 34.8h1.3v1.3h-1.3zM36.7 56.7h1.3v1.3h-1.3zM79.9 39.2h1.3v1.3h-1.3zM60.1 62.1h1.3v1.3h-1.3zM48.6 56h1.3v1.3h-1.3zM62.9 37.5h1.3v1.3h-1.3zM60.9 44.6h1.3v1.3h-1.3zM107.2 33.8h1.3v1.3h-1.3zM66.6 53.5h1.3v1.3h-1.3zM76.7 51h1.3v1.3h-1.3zM59.4 29.2h1.3v1.3h-1.3zM35.1 52.5h1.3v1.3h-1.3zM72.3 56.7h1.3v1.3h-1.3zM48.4 37.2h1.3v1.3h-1.3zM52.6 28.1h1.3v1.3h-1.3zM48.5 54h1.3v1.3h-1.3zM67.9 55.7h1.3v1.3h-1.3zM36.3 39.5h1.3v1.3h-1.3zM46.9 37.8h1.3v1.3h-1.3zM84.2 26.8h1.3v1.3h-1.3zM39.3 56.4h1.3v1.3h-1.3zM110 36.6h1.3v1.3h-1.3zM96.3 33.2h1.3v1.3h-1.3zM68.6 30.9h1.3v1.3h-1.3zM36.5 63.9h1.3v1.3h-1.3zM64 31.5h1.3v1.3h-1.3zM91.6 42.4h1.3v1.3h-1.3zM59.4 45h1.3v1.3h-1.3z" fill="#2f6e3c" opacity="0.8"/><path d="M77.9 43.8h1.3v1.3h-1.3zM69.1 56h1.3v1.3h-1.3zM45.6 51.6h1.3v1.3h-1.3zM76.9 43.9h1.3v1.3h-1.3zM61.4 29.5h1.3v1.3h-1.3zM70.1 54.8h1.3v1.3h-1.3zM54.5 42.1h1.3v1.3h-1.3zM42 51.2h1.3v1.3h-1.3zM77.6 25.9h1.3v1.3h-1.3zM34.7 73.2h1.3v1.3h-1.3zM102.2 40.2h1.3v1.3h-1.3zM41 41.4h1.3v1.3h-1.3zM42 65.6h1.3v1.3h-1.3zM83.8 30.6h1.3v1.3h-1.3zM59.9 63.1h1.3v1.3h-1.3zM38.4 46.2h1.3v1.3h-1.3zM56.2 59.7h1.3v1.3h-1.3zM55.2 45.3h1.3v1.3h-1.3zM80.7 28.2h1.3v1.3h-1.3zM51.3 57h1.3v1.3h-1.3zM55.5 42.5h1.3v1.3h-1.3zM71.4 33.4h1.3v1.3h-1.3zM41.8 39.6h1.3v1.3h-1.3zM71.2 50.2h1.3v1.3h-1.3zM71.1 45.8h1.3v1.3h-1.3zM49.2 66.8h1.3v1.3h-1.3zM69.5 58.3h1.3v1.3h-1.3zM80.9 34.3h1.3v1.3h-1.3zM43.4 72.6h1.3v1.3h-1.3zM83.2 38.7h1.3v1.3h-1.3zM57.4 47.2h1.3v1.3h-1.3zM73.8 50.4h1.3v1.3h-1.3zM35.7 58.9h1.3v1.3h-1.3zM47.8 45h1.3v1.3h-1.3zM44.5 55.8h1.3v1.3h-1.3zM77.7 39h1.3v1.3h-1.3zM56.9 55.6h1.3v1.3h-1.3zM97.3 38.7h1.3v1.3h-1.3zM51.9 28.1h1.3v1.3h-1.3zM46.5 55h1.3v1.3h-1.3zM60.4 42.7h1.3v1.3h-1.3zM67.2 29.6h1.3v1.3h-1.3zM38.3 40.1h1.3v1.3h-1.3zM76.3 44.2h1.3v1.3h-1.3zM59.1 57.4h1.3v1.3h-1.3zM49.3 53.1h1.3v1.3h-1.3zM74.4 32.9h1.3v1.3h-1.3zM111.4 33.5h1.3v1.3h-1.3zM80.1 47.3h1.3v1.3h-1.3zM49.7 36.1h1.3v1.3h-1.3zM109.8 36.8h1.3v1.3h-1.3zM72.6 30.7h1.3v1.3h-1.3zM77.5 29.7h1.3v1.3h-1.3zM44.1 67.7h1.3v1.3h-1.3zM86.3 30.3h1.3v1.3h-1.3zM82.8 49.5h1.3v1.3h-1.3zM72.5 55.5h1.3v1.3h-1.3zM69.5 31.4h1.3v1.3h-1.3zM91.1 46.1h1.3v1.3h-1.3zM34.5 50.7h1.3v1.3h-1.3zM42.6 38.7h1.3v1.3h-1.3zM82.4 35.3h1.3v1.3h-1.3zM73.1 45.9h1.3v1.3h-1.3zM61.6 35.2h1.3v1.3h-1.3zM69.6 40.5h1.3v1.3h-1.3zM45.7 34.4h1.3v1.3h-1.3zM96.5 30.7h1.3v1.3h-1.3zM40.7 41.3h1.3v1.3h-1.3zM64.3 33.2h1.3v1.3h-1.3zM83.9 44.4h1.3v1.3h-1.3zM85.4 43.9h1.3v1.3h-1.3zM59 30.1h1.3v1.3h-1.3zM94.7 34.8h1.3v1.3h-1.3zM40.1 72.9h1.3v1.3h-1.3zM52.5 52.1h1.3v1.3h-1.3zM92.9 33.1h1.3v1.3h-1.3zM47.5 69.5h1.3v1.3h-1.3zM52.1 40.9h1.3v1.3h-1.3zM87.5 45.7h1.3v1.3h-1.3zM37.8 57h1.3v1.3h-1.3zM69.6 25.1h1.3v1.3h-1.3zM58.6 24.3h1.3v1.3h-1.3zM99.9 32.5h1.3v1.3h-1.3zM41.6 43h1.3v1.3h-1.3zM96 42.4h1.3v1.3h-1.3zM36 64.2h1.3v1.3h-1.3zM86 27.9h1.3v1.3h-1.3zM92.9 28.4h1.3v1.3h-1.3zM73.1 40.7h1.3v1.3h-1.3zM101.4 34.5h1.3v1.3h-1.3zM81.2 41.6h1.3v1.3h-1.3zM49.5 30h1.3v1.3h-1.3zM89.9 44.4h1.3v1.3h-1.3zM67.7 30.2h1.3v1.3h-1.3zM51 65h1.3v1.3h-1.3zM68.6 45.6h1.3v1.3h-1.3zM92.1 38.6h1.3v1.3h-1.3z" fill="#5aa262" opacity="0.8"/><path d="M78.9 52.8v2.9M39.6 74.3v1.9M74.2 55.4v2.9M101.1 40.6v3M64.1 60.9v3.2M108.7 36.5v2.4M109 36.3v3.9M58.8 63.8v1.4M34.8 77v2.4M62.1 62v2.7M103.4 39.4v1.5M72.5 56.3v1.6M100.7 40.9v2.2M114 33.6v2.9M79.8 52.3v3.7M73.3 55.9v3M74.9 55v3.1M78.5 53.1v2.2M33.5 77.7v2.4M46.6 70.5v2.5M90.3 46.6v2.1M92.5 45.4v1.7M52.7 67.1v2.1M46.1 70.8v1.9M36.8 75.9v2.4M116.5 32.2v2.1M40.8 73.7v2M34.9 76.9v1.7M110.4 35.5v3.4M51.7 67.7v1.8M109.2 36.2v2.5M36.3 76.2v2.2M106.7 37.6v2.2M108.1 36.8v1.7M50.2 68.5v1.6M70 57.7v2.5M100.6 40.9v3.6M105.6 38.2v3.4M106.8 37.5v2.7M98.8 41.9v2.3M35.7 76.5v2.3M91.2 46.1v4M99 41.8v2.6M45.4 71.2v2.4M108.2 36.8v4.4M98.8 41.9v2.2M52.2 67.4v2M91.8 45.7v1.7M109 36.3v3.2M96.3 43.3v3.2M85.6 49.1v2.7M36.7 75.9v1.9M68.7 58.4v3.5M101.3 40.5v1.9M40.9 73.6v2.5M95.7 43.6v2M55 65.9v3.2M100.1 41.2v4.3M43.1 72.4v2.2M81.4 51.4v1.7M113.3 34v4.4M96.7 43.1v3.5M95.1 43.9v3.9M66.9 59.4v2.1M101.9 40.2v3.6M110.8 35.3v2.2M70 57.7v3.5M65.4 60.2v2M40.2 74v1.6M115.1 33v2.3M79.4 52.5v1.6M101.8 40.2v2.6M68.9 58.3v1.7M86.4 48.7v3.9M34.9 76.9v2M59 63.7v2.6M104.8 38.6v1.6M115 33v4.2M58.2 64.2v3.4M114.7 33.2v3.4M76.4 54.2v3.3M90 46.7v4.3M110.2 35.6v3.1M55.2 65.8v3.2M55.2 65.8v2.8M50.5 68.4v3M87.2 48.2v3.4M41.6 73.3v2.6M81.8 51.2v3.6M44.7 71.6v2.2M64.5 60.7v2.3M68 58.8v2.9M109.8 35.9v3.4M33.9 77.5v2.3M55.9 65.4v2.1M55.3 65.7v2.5M79.8 52.3v3.7M109.5 36v3.7M114 33.6v3.3M76.5 54.1v2M58.4 64v2.4M65.4 60.2v3.5M95.2 43.9v1.5M91.5 45.9v3.4M99.6 41.4v2M41.1 73.5v2.3M79.7 52.4v3.8M89.3 47.1v3.3M100 41.3v2.8M49.4 69v3M43.3 72.3v1.9M68 58.8v2.2M105.2 38.4v3M46.9 70.4v2.8M57.3 64.6v3.3M93.5 44.8v2M79 52.7v2.2M98.7 42v2.7M64.4 60.7v2.5M90.3 46.6v3.8M34.8 77v1.8M110.3 35.6v1.6M43.9 72v1.3M57.5 64.5v2.5M90.8 46.3v3.7M114.9 33.1v1.9M78.7 52.9v1.5M47.5 70v1.7M104.8 38.6v1.6M64.2 60.9v2.4" stroke="#4a9050" stroke-width="0.8" opacity="0.8" fill="none"/></g>
<g filter="url(#soft)"><polygon points="41,235.6 64,220 110.5,230 41.5,271" fill="#3e0404"/>
<path d="M48.9 243.9h1.4v1.4h-1.4zM50.6 251.5h1.4v1.4h-1.4zM66.1 228.5h1.4v1.4h-1.4zM74.4 236.1h1.4v1.4h-1.4zM42.3 260.2h1.4v1.4h-1.4zM78.9 235.9h1.4v1.4h-1.4zM48.4 242.2h1.4v1.4h-1.4zM99.7 235h1.4v1.4h-1.4zM74.3 234.8h1.4v1.4h-1.4zM75.7 237.3h1.4v1.4h-1.4zM66.3 255.9h1.4v1.4h-1.4zM41.8 247.9h1.4v1.4h-1.4zM77 247h1.4v1.4h-1.4zM43.9 244.1h1.4v1.4h-1.4zM63.1 229.3h1.4v1.4h-1.4zM43.5 243.7h1.4v1.4h-1.4zM60.4 240.9h1.4v1.4h-1.4zM43.5 251.3h1.4v1.4h-1.4zM85.6 238.8h1.4v1.4h-1.4zM67.1 242h1.4v1.4h-1.4zM75.5 241.2h1.4v1.4h-1.4zM60.9 244.3h1.4v1.4h-1.4zM84.2 242.6h1.4v1.4h-1.4zM41.9 247.2h1.4v1.4h-1.4zM58.1 233.7h1.4v1.4h-1.4zM49.2 258.8h1.4v1.4h-1.4zM78.1 237.1h1.4v1.4h-1.4zM77.8 243.7h1.4v1.4h-1.4zM42 259.7h1.4v1.4h-1.4zM74.2 248h1.4v1.4h-1.4zM44.4 262.9h1.4v1.4h-1.4zM90.5 226.9h1.4v1.4h-1.4zM83.4 241.1h1.4v1.4h-1.4zM48.5 239.3h1.4v1.4h-1.4zM50.3 232h1.4v1.4h-1.4zM49.7 250.3h1.4v1.4h-1.4zM43 257h1.4v1.4h-1.4zM88.3 231.4h1.4v1.4h-1.4zM84.4 238.1h1.4v1.4h-1.4zM64.2 251.3h1.4v1.4h-1.4zM68.5 224.9h1.4v1.4h-1.4zM84.1 241.9h1.4v1.4h-1.4zM52.1 239.1h1.4v1.4h-1.4zM58.7 234.1h1.4v1.4h-1.4zM61 232h1.4v1.4h-1.4zM43.2 267.2h1.4v1.4h-1.4zM91.7 228.3h1.4v1.4h-1.4zM66.3 235.9h1.4v1.4h-1.4zM77.1 237.9h1.4v1.4h-1.4zM45.9 265.8h1.4v1.4h-1.4zM68.6 223.1h1.4v1.4h-1.4zM69.3 235.6h1.4v1.4h-1.4zM43.6 269.6h1.4v1.4h-1.4zM46.9 236h1.4v1.4h-1.4zM56.6 225.9h1.4v1.4h-1.4zM62.7 226.6h1.4v1.4h-1.4zM58 224.3h1.4v1.4h-1.4zM81.1 232.5h1.4v1.4h-1.4zM54.9 234.6h1.4v1.4h-1.4zM47.8 241.4h1.4v1.4h-1.4zM67.6 226.6h1.4v1.4h-1.4zM57.1 241.9h1.4v1.4h-1.4zM47.6 247h1.4v1.4h-1.4zM73 242.1h1.4v1.4h-1.4zM43.3 249.4h1.4v1.4h-1.4zM56 234.1h1.4v1.4h-1.4zM57.8 237.9h1.4v1.4h-1.4zM54.9 260.6h1.4v1.4h-1.4zM76.6 249.9h1.4v1.4h-1.4zM68 236.2h1.4v1.4h-1.4zM62.7 239.5h1.4v1.4h-1.4zM77.3 234.5h1.4v1.4h-1.4zM60.1 256.5h1.4v1.4h-1.4zM78.8 240.1h1.4v1.4h-1.4zM83.6 239.7h1.4v1.4h-1.4zM55.8 235.6h1.4v1.4h-1.4zM51.6 251.4h1.4v1.4h-1.4zM55.3 239.1h1.4v1.4h-1.4zM67 254.9h1.4v1.4h-1.4zM61.6 226h1.4v1.4h-1.4zM46.1 233.8h1.4v1.4h-1.4zM41.4 259.1h1.4v1.4h-1.4zM73.8 224.4h1.4v1.4h-1.4zM76.3 222.7h1.4v1.4h-1.4zM56.1 241.5h1.4v1.4h-1.4zM72.8 223.8h1.4v1.4h-1.4zM82.6 227h1.4v1.4h-1.4zM48.7 252.8h1.4v1.4h-1.4zM91.8 226.8h1.4v1.4h-1.4zM67.8 237.6h1.4v1.4h-1.4zM50.6 237.9h1.4v1.4h-1.4zM80.3 230.6h1.4v1.4h-1.4zM49.4 258.5h1.4v1.4h-1.4zM51.8 231h1.4v1.4h-1.4zM106.8 230.5h1.4v1.4h-1.4zM65.5 224h1.4v1.4h-1.4zM51.1 233.7h1.4v1.4h-1.4zM99.1 235h1.4v1.4h-1.4zM94.5 237.2h1.4v1.4h-1.4zM59.1 240.8h1.4v1.4h-1.4zM45.4 235.4h1.4v1.4h-1.4zM48.2 241.2h1.4v1.4h-1.4zM42.9 248.8h1.4v1.4h-1.4zM48.1 259.2h1.4v1.4h-1.4zM78.7 242.3h1.4v1.4h-1.4zM77.8 227.1h1.4v1.4h-1.4zM80.9 245.5h1.4v1.4h-1.4zM92.7 233.1h1.4v1.4h-1.4zM52.3 255.6h1.4v1.4h-1.4zM81.3 232.8h1.4v1.4h-1.4zM44.6 256.8h1.4v1.4h-1.4zM50.2 241.4h1.4v1.4h-1.4zM52.1 245.2h1.4v1.4h-1.4zM78.2 244.4h1.4v1.4h-1.4zM56.9 234h1.4v1.4h-1.4zM42 259.1h1.4v1.4h-1.4zM74.1 246.6h1.4v1.4h-1.4zM64.6 225.1h1.4v1.4h-1.4zM41.2 241.9h1.4v1.4h-1.4zM91.7 239.8h1.4v1.4h-1.4zM88.9 231.1h1.4v1.4h-1.4zM72.3 240.8h1.4v1.4h-1.4zM71.8 229.7h1.4v1.4h-1.4zM66.2 227.3h1.4v1.4h-1.4zM70.6 225.4h1.4v1.4h-1.4zM52.9 241.8h1.4v1.4h-1.4zM98.2 231.7h1.4v1.4h-1.4zM49.6 246.5h1.4v1.4h-1.4zM76.7 243.9h1.4v1.4h-1.4zM51.5 234.2h1.4v1.4h-1.4zM45.9 254.4h1.4v1.4h-1.4zM61.2 224.6h1.4v1.4h-1.4zM47.1 237.5h1.4v1.4h-1.4zM47.8 264h1.4v1.4h-1.4zM56.9 234.6h1.4v1.4h-1.4zM83.7 240.7h1.4v1.4h-1.4zM82 228.9h1.4v1.4h-1.4zM43.4 243.3h1.4v1.4h-1.4zM53.3 244.2h1.4v1.4h-1.4zM72.8 234.2h1.4v1.4h-1.4zM71.4 251.3h1.4v1.4h-1.4zM95.1 235.6h1.4v1.4h-1.4zM44.2 245.5h1.4v1.4h-1.4zM95.8 231.3h1.4v1.4h-1.4zM62.7 232.6h1.4v1.4h-1.4zM58.7 228.6h1.4v1.4h-1.4zM59.1 243.3h1.4v1.4h-1.4zM46.6 232.6h1.4v1.4h-1.4zM82.2 236.4h1.4v1.4h-1.4zM95.9 235.1h1.4v1.4h-1.4zM41.6 249.8h1.4v1.4h-1.4zM41.4 235.4h1.4v1.4h-1.4zM60.6 257.3h1.4v1.4h-1.4zM47.6 257.8h1.4v1.4h-1.4zM86.5 235.9h1.4v1.4h-1.4z" fill="#4a0808"/>
<path d="M43 243.7h1.4v1.4h-1.4zM94.2 228.1h1.4v1.4h-1.4zM55.6 231h1.4v1.4h-1.4zM101.6 234.8h1.4v1.4h-1.4zM45.5 235.4h1.4v1.4h-1.4zM64.5 235.8h1.4v1.4h-1.4zM107.4 230h1.4v1.4h-1.4zM64.9 238.1h1.4v1.4h-1.4zM64.7 251.2h1.4v1.4h-1.4zM51.3 255.1h1.4v1.4h-1.4zM69.2 232.1h1.4v1.4h-1.4zM70.3 222.8h1.4v1.4h-1.4zM43.3 245.2h1.4v1.4h-1.4zM50.1 257.3h1.4v1.4h-1.4zM51.2 239.2h1.4v1.4h-1.4zM59.9 259.9h1.4v1.4h-1.4zM89 235h1.4v1.4h-1.4zM96.4 237.7h1.4v1.4h-1.4zM52.9 259.8h1.4v1.4h-1.4zM87.3 241.5h1.4v1.4h-1.4zM52.1 242.5h1.4v1.4h-1.4zM56.2 255h1.4v1.4h-1.4zM78.9 237.3h1.4v1.4h-1.4zM83.3 237.9h1.4v1.4h-1.4zM50.8 252.1h1.4v1.4h-1.4zM83.3 244.2h1.4v1.4h-1.4zM84.9 244.6h1.4v1.4h-1.4zM67.8 240h1.4v1.4h-1.4zM54.7 235.1h1.4v1.4h-1.4zM45.6 262.7h1.4v1.4h-1.4zM71.1 234.6h1.4v1.4h-1.4zM64 227.8h1.4v1.4h-1.4zM42.8 256.9h1.4v1.4h-1.4zM45 249.3h1.4v1.4h-1.4zM71 236h1.4v1.4h-1.4zM67 222.8h1.4v1.4h-1.4zM51.5 252.2h1.4v1.4h-1.4zM84.2 233.4h1.4v1.4h-1.4zM58.7 258.3h1.4v1.4h-1.4zM92.2 229.1h1.4v1.4h-1.4zM67.8 227h1.4v1.4h-1.4zM87.5 234.8h1.4v1.4h-1.4zM46.4 240.5h1.4v1.4h-1.4zM60.7 257.3h1.4v1.4h-1.4zM52.4 232.3h1.4v1.4h-1.4zM44.1 248h1.4v1.4h-1.4zM76.3 240.5h1.4v1.4h-1.4zM78.5 244.8h1.4v1.4h-1.4zM67.2 251.9h1.4v1.4h-1.4zM47.1 259.4h1.4v1.4h-1.4zM52.8 233.4h1.4v1.4h-1.4zM60.8 223.2h1.4v1.4h-1.4zM64 220.6h1.4v1.4h-1.4zM49.2 236.2h1.4v1.4h-1.4zM82.4 225.3h1.4v1.4h-1.4zM70.2 222.7h1.4v1.4h-1.4zM80.1 238.2h1.4v1.4h-1.4zM68.9 227.3h1.4v1.4h-1.4zM89.9 240.4h1.4v1.4h-1.4zM66.2 250.3h1.4v1.4h-1.4zM47.1 238.1h1.4v1.4h-1.4zM55.5 246.4h1.4v1.4h-1.4zM68.1 229.1h1.4v1.4h-1.4zM90.7 239.1h1.4v1.4h-1.4zM52.6 252.3h1.4v1.4h-1.4zM70 241.7h1.4v1.4h-1.4zM60.5 250.9h1.4v1.4h-1.4zM49 248.7h1.4v1.4h-1.4zM53.8 229.7h1.4v1.4h-1.4zM105.4 231.7h1.4v1.4h-1.4zM46.8 240.6h1.4v1.4h-1.4zM67.1 226h1.4v1.4h-1.4zM46 258.7h1.4v1.4h-1.4zM61.2 245.4h1.4v1.4h-1.4zM61.6 237.2h1.4v1.4h-1.4zM70.2 232.1h1.4v1.4h-1.4zM78.6 239.7h1.4v1.4h-1.4zM47.4 238.1h1.4v1.4h-1.4zM72.8 239.5h1.4v1.4h-1.4zM73.7 234.6h1.4v1.4h-1.4zM70.8 233.6h1.4v1.4h-1.4zM51.6 246.4h1.4v1.4h-1.4zM66.6 244.4h1.4v1.4h-1.4zM80.5 233.4h1.4v1.4h-1.4zM61.7 243h1.4v1.4h-1.4zM46.4 242.9h1.4v1.4h-1.4zM77.7 239.8h1.4v1.4h-1.4zM61.8 248.1h1.4v1.4h-1.4zM64.8 227.3h1.4v1.4h-1.4zM59.3 234.1h1.4v1.4h-1.4zM92.5 233.4h1.4v1.4h-1.4zM84.5 239.8h1.4v1.4h-1.4zM58.1 233.4h1.4v1.4h-1.4zM44.6 257.7h1.4v1.4h-1.4zM81.9 226h1.4v1.4h-1.4zM45.6 243.5h1.4v1.4h-1.4zM45.8 252.8h1.4v1.4h-1.4zM72.1 249.2h1.4v1.4h-1.4zM59 238.2h1.4v1.4h-1.4zM59.4 252.1h1.4v1.4h-1.4zM90.8 240.9h1.4v1.4h-1.4zM48.5 246.1h1.4v1.4h-1.4zM78.3 224.3h1.4v1.4h-1.4zM70.7 230.7h1.4v1.4h-1.4zM50.3 230.3h1.4v1.4h-1.4zM72 251.6h1.4v1.4h-1.4zM94.1 237.2h1.4v1.4h-1.4zM60.6 237h1.4v1.4h-1.4zM88 237.3h1.4v1.4h-1.4zM100.3 232.1h1.4v1.4h-1.4zM86.2 239.6h1.4v1.4h-1.4zM71.2 235.6h1.4v1.4h-1.4zM66.9 250.4h1.4v1.4h-1.4zM45.3 233.3h1.4v1.4h-1.4zM72.8 242.4h1.4v1.4h-1.4zM42.4 265.1h1.4v1.4h-1.4zM58.4 254.8h1.4v1.4h-1.4zM54.3 247.2h1.4v1.4h-1.4zM66.4 224.8h1.4v1.4h-1.4zM99 236.6h1.4v1.4h-1.4zM78.3 231.2h1.4v1.4h-1.4zM82.3 224.8h1.4v1.4h-1.4zM69.3 236.4h1.4v1.4h-1.4zM95.1 235.8h1.4v1.4h-1.4zM47.7 237.6h1.4v1.4h-1.4zM65.1 245.9h1.4v1.4h-1.4zM80.6 243h1.4v1.4h-1.4zM50.2 242.4h1.4v1.4h-1.4zM62.3 238.6h1.4v1.4h-1.4zM48.6 258.5h1.4v1.4h-1.4zM84.5 234.5h1.4v1.4h-1.4zM64.1 255.4h1.4v1.4h-1.4zM84.4 225.7h1.4v1.4h-1.4zM68.9 233h1.4v1.4h-1.4zM57.9 245.5h1.4v1.4h-1.4zM83.5 228.3h1.4v1.4h-1.4zM41.7 235.5h1.4v1.4h-1.4zM79.7 239.5h1.4v1.4h-1.4zM63 252.4h1.4v1.4h-1.4zM55.3 253.9h1.4v1.4h-1.4zM54 243.8h1.4v1.4h-1.4zM74 246.6h1.4v1.4h-1.4zM62 248.5h1.4v1.4h-1.4zM73.7 250.7h1.4v1.4h-1.4zM50.3 242.8h1.4v1.4h-1.4z" fill="#340202"/><path d="M100.2 231.8h0.6v0.6h-0.6zM68.3 253.3h0.9v0.9h-0.9zM87.9 242.2h0.9v0.9h-0.9zM59.9 259.2h0.8v0.8h-0.8zM83.6 244.7h0.9v0.9h-0.9zM81.6 245.5h0.9v0.9h-0.9zM72.9 252.2h0.6v0.6h-0.6zM69.8 253h1v1h-1zM103.7 232.9h0.8v0.8h-0.8zM68.2 254.7h1v1h-1zM82.6 245.6h1v1h-1zM99 232.7h0.7v0.7h-0.7zM85 244.5h0.8v0.8h-0.8zM64.5 256.9h0.8v0.8h-0.8zM81.2 246.5h0.6v0.6h-0.6zM70.1 253.1h0.8v0.8h-0.8zM74.2 251.3h1v1h-1zM62.7 258h1v1h-1zM70.1 253.3h0.7v0.7h-0.7zM101.1 233.7h0.8v0.8h-0.8zM79 247.3h0.8v0.8h-0.8zM98.3 236.3h0.8v0.8h-0.8zM79.8 247.7h0.7v0.7h-0.7zM59.3 259.3h0.9v0.9h-0.9zM85.2 243.6h0.9v0.9h-0.9zM75.7 249h0.5v0.5h-0.5zM69.6 253.9h0.7v0.7h-0.7zM76.9 247.4h0.7v0.7h-0.7zM72.3 252.2h1.1v1.1h-1.1zM90.7 239.7h0.9v0.9h-0.9zM70.1 253.1h0.9v0.9h-0.9zM107.6 226.7h0.8v0.8h-0.8zM74.4 250.8h0.8v0.8h-0.8zM72.4 251.7h0.6v0.6h-0.6zM93.4 236.7h0.6v0.6h-0.6zM77.7 247.5h0.6v0.6h-0.6zM65.8 255.7h1.1v1.1h-1.1zM93.2 238.6h0.7v0.7h-0.7zM89.4 241h0.8v0.8h-0.8zM83.1 243.5h0.7v0.7h-0.7zM103 230.9h0.8v0.8h-0.8zM106 229h0.9v0.9h-0.9zM71.7 251.2h0.7v0.7h-0.7zM64.6 256.6h1v1h-1zM58.7 260.1h0.8v0.8h-0.8zM68.5 253.4h0.8v0.8h-0.8zM101.3 233.8h0.9v0.9h-0.9zM107.6 229.7h1v1h-1zM69.5 253.8h0.6v0.6h-0.6zM75.3 249.3h0.7v0.7h-0.7zM77.5 246.9h0.9v0.9h-0.9zM76.7 249.9h0.8v0.8h-0.8zM106.1 227.8h0.8v0.8h-0.8zM74 250h0.5v0.5h-0.5zM65.2 255.6h0.5v0.5h-0.5zM61.7 257.7h1.1v1.1h-1.1zM100.1 232.1h1v1h-1zM90.6 241.5h0.9v0.9h-0.9zM102.6 232.1h1v1h-1zM83.3 245.1h0.8v0.8h-0.8zM99.1 236.5h0.8v0.8h-0.8zM65.2 255.1h0.6v0.6h-0.6zM87.6 240.7h0.7v0.7h-0.7zM67.2 253.9h1v1h-1zM73 250.5h1v1h-1zM97.1 236.5h0.9v0.9h-0.9zM79.3 246.3h1.1v1.1h-1.1zM69 253.4h0.9v0.9h-0.9zM61.4 259h0.5v0.5h-0.5zM66.3 254.7h0.9v0.9h-0.9zM80.5 247h1.1v1.1h-1.1zM69.6 252.2h0.9v0.9h-0.9zM64.1 257.2h0.9v0.9h-0.9zM100.2 234.6h0.8v0.8h-0.8zM77.2 247.1h0.9v0.9h-0.9zM99.1 233.3h1v1h-1zM64.8 255.5h1v1h-1zM77.6 247.7h0.5v0.5h-0.5zM84.3 244.3h0.9v0.9h-0.9zM103 233.5h0.6v0.6h-0.6zM93.4 238.3h1.1v1.1h-1.1zM86.7 243.9h0.5v0.5h-0.5zM68.2 254.3h1.1v1.1h-1.1zM90.4 238.3h0.7v0.7h-0.7zM59.4 259.1h0.7v0.7h-0.7zM100.5 233.1h0.9v0.9h-0.9zM72.7 252.1h1v1h-1zM85.8 243.6h0.5v0.5h-0.5zM106.6 230.1h0.6v0.6h-0.6zM87.4 241.2h1v1h-1z" fill="#f0e8e8" opacity="0.85"/></g>
<path d="M414.7 46.1h1.1v1.1h-1.1zM432.2 28.4h1.2v1.2h-1.2zM421.8 55.6h1.3v1.3h-1.3zM443.5 29.6h0.9v0.9h-0.9zM426.8 40.3h1.1v1.1h-1.1zM441.4 47.2h0.8v0.8h-0.8zM408 55.6h0.9v0.9h-0.9zM431 27.2h1v1h-1zM431.5 31.8h1.2v1.2h-1.2zM423.4 52.7h1v1h-1zM422.7 47.5h1.1v1.1h-1.1zM420.4 37.6h1.1v1.1h-1.1zM429.6 53.2h0.9v0.9h-0.9zM440.2 34.8h1v1h-1zM435.4 29.8h1v1h-1zM440.3 38.8h0.9v0.9h-0.9zM439.7 36h1v1h-1zM417 38.6h0.8v0.8h-0.8zM444.5 47.3h1.2v1.2h-1.2zM415.4 57.9h1.2v1.2h-1.2zM432.3 57.9h0.9v0.9h-0.9zM416.1 45.5h1v1h-1zM407.9 44.6h1v1h-1zM412.6 38.2h1.1v1.1h-1.1zM436.2 40.1h0.9v0.9h-0.9zM440.1 49h1v1h-1zM426.3 52h1.1v1.1h-1.1zM407.2 41.7h1.2v1.2h-1.2zM415.8 43.2h1.2v1.2h-1.2zM437 46.9h1.1v1.1h-1.1zM443.6 32.6h1.2v1.2h-1.2zM420.5 40.7h1v1h-1zM434.3 45.1h1.1v1.1h-1.1zM444.4 31.5h1.2v1.2h-1.2zM445.2 45.1h1.2v1.2h-1.2zM412.4 35.9h1.1v1.1h-1.1zM417.3 52.1h1.2v1.2h-1.2zM430.3 35.9h0.8v0.8h-0.8zM425.6 40.2h1v1h-1zM418.5 54.6h1.3v1.3h-1.3zM425.6 48.2h1.2v1.2h-1.2zM441 46.6h1.2v1.2h-1.2zM425 34.5h1.2v1.2h-1.2zM442.4 35h0.9v0.9h-0.9zM415.5 58h1v1h-1zM436.8 29.2h1.2v1.2h-1.2zM423.6 44h1.1v1.1h-1.1zM416.4 50.6h1.2v1.2h-1.2zM438.8 54h1.1v1.1h-1.1zM433.4 55.8h1.2v1.2h-1.2zM445.9 31.2h1.2v1.2h-1.2zM418.1 32.5h1.2v1.2h-1.2zM419.9 57.3h0.9v0.9h-0.9zM439.1 52.9h0.9v0.9h-0.9zM430.6 31.4h0.9v0.9h-0.9zM427.7 47h0.9v0.9h-0.9zM431.1 52.9h1.2v1.2h-1.2zM412.7 45.6h1.1v1.1h-1.1zM406.3 39.3h0.8v0.8h-0.8zM428.2 60.4h1.2v1.2h-1.2zM423 50h1v1h-1zM438.1 40.9h1.2v1.2h-1.2zM436.4 39.6h1.1v1.1h-1.1zM430.8 34.3h0.9v0.9h-0.9zM439.2 31.3h0.9v0.9h-0.9zM422.2 32.2h0.9v0.9h-0.9zM411.6 44.1h0.8v0.8h-0.8zM422.1 40.7h1.3v1.3h-1.3zM446 37.1h0.9v0.9h-0.9zM440.7 49.3h0.8v0.8h-0.8zM417.2 57.4h1v1h-1zM445.6 39.4h0.9v0.9h-0.9zM439.1 43.8h0.9v0.9h-0.9zM419 39.7h1v1h-1zM407.6 50h0.8v0.8h-0.8zM414.3 61.8h1.1v1.1h-1.1zM428.1 33h0.8v0.8h-0.8zM441.1 30.2h1.3v1.3h-1.3zM413 59.1h1v1h-1zM438.3 58.3h1.1v1.1h-1.1zM436.8 28.9h1v1h-1zM433.2 48.4h1v1h-1zM417.1 60.6h0.8v0.8h-0.8zM436.5 36.9h1.1v1.1h-1.1zM405.8 53.6h1v1h-1zM408.7 37.1h0.8v0.8h-0.8zM420.8 32h1v1h-1zM427.7 46.1h1.2v1.2h-1.2zM423.5 38.5h1.1v1.1h-1.1zM408.2 37.5h1.2v1.2h-1.2zM422.8 35.6h1v1h-1zM438.1 55.2h1.2v1.2h-1.2zM428.8 36.3h0.8v0.8h-0.8zM440.6 48.3h1.1v1.1h-1.1zM428.6 41.1h1v1h-1zM418.2 45.3h1.2v1.2h-1.2zM408.6 50.7h1.1v1.1h-1.1zM421.2 56.6h0.9v0.9h-0.9zM418.3 40.5h0.9v0.9h-0.9zM416.7 61.6h0.9v0.9h-0.9zM414.6 61.4h1.3v1.3h-1.3zM434.4 49.9h0.8v0.8h-0.8zM438.2 32.5h1.2v1.2h-1.2zM447.2 45.8h0.9v0.9h-0.9zM419.9 59.9h0.9v0.9h-0.9zM448.1 35.1h1.3v1.3h-1.3zM425.8 52h0.8v0.8h-0.8zM424.9 45.9h1.1v1.1h-1.1zM411.6 35.8h0.8v0.8h-0.8zM428.3 42.3h1.1v1.1h-1.1zM418.5 44.7h1v1h-1zM426.5 53.1h1.1v1.1h-1.1zM416.7 61.8h1v1h-1zM423.9 48.9h1v1h-1zM442.1 54.8h1.2v1.2h-1.2zM417.5 44.7h1v1h-1zM407.7 37.9h0.8v0.8h-0.8zM425.4 58.9h0.9v0.9h-0.9zM441.1 48.2h0.8v0.8h-0.8zM441.5 32.8h1v1h-1zM413.1 40.5h1.1v1.1h-1.1zM417.4 59.3h1.1v1.1h-1.1zM442.6 53.3h0.8v0.8h-0.8zM423.5 37.5h1.2v1.2h-1.2zM445.1 40.7h0.9v0.9h-0.9zM405.7 44.5h1.2v1.2h-1.2zM422.1 40.4h0.9v0.9h-0.9zM415.9 51.7h0.9v0.9h-0.9zM411.9 53.8h1.1v1.1h-1.1zM430.9 49.2h0.8v0.8h-0.8zM439.4 57.8h1.1v1.1h-1.1zM437 47.6h1.1v1.1h-1.1zM438.3 46.4h1.2v1.2h-1.2zM437.7 36.8h1.1v1.1h-1.1zM437.1 39h1.1v1.1h-1.1zM408.9 46.5h1.2v1.2h-1.2zM411.8 40.6h1v1h-1zM429.9 30h1v1h-1zM413.1 44.7h0.9v0.9h-0.9zM446.7 43.6h0.9v0.9h-0.9zM418.7 54.2h1.1v1.1h-1.1zM416.1 44.8h1.2v1.2h-1.2zM411.6 49.7h1.2v1.2h-1.2zM431.2 32h1.1v1.1h-1.1zM443.8 31.1h0.8v0.8h-0.8zM439.3 40.5h1.3v1.3h-1.3zM416.7 51.8h0.8v0.8h-0.8zM434 38.1h1v1h-1zM440 38.8h1v1h-1zM430.9 36.7h0.8v0.8h-0.8zM427.5 41.8h0.8v0.8h-0.8zM439.7 44.5h1.3v1.3h-1.3zM430.2 49.1h0.9v0.9h-0.9zM409.5 44.5h0.9v0.9h-0.9zM445.6 41.3h1v1h-1zM406.2 51h1v1h-1zM417.5 37.3h1.1v1.1h-1.1zM408 61.7h1.3v1.3h-1.3zM436 46.7h1v1h-1zM431.1 27.1h1.2v1.2h-1.2zM415.6 43.5h1v1h-1zM413.1 38.5h0.9v0.9h-0.9zM430.3 48.6h0.9v0.9h-0.9zM419.3 41.9h1.2v1.2h-1.2zM413.9 34.4h1.1v1.1h-1.1zM432.9 52.9h1.2v1.2h-1.2zM425.5 40h1v1h-1zM430.8 61h1.2v1.2h-1.2zM444.8 42.1h0.9v0.9h-0.9zM441.3 41.6h1v1h-1zM445.8 35.4h1.3v1.3h-1.3zM407.9 58.8h0.9v0.9h-0.9zM421.9 44.8h1.2v1.2h-1.2zM429.1 30.3h0.8v0.8h-0.8zM444.7 35.8h1.3v1.3h-1.3zM413 60.1h1.1v1.1h-1.1zM408.8 59.2h1v1h-1zM433.4 48h0.9v0.9h-0.9zM411.6 38.1h1v1h-1zM428.4 41.1h0.9v0.9h-0.9zM425.9 54.8h1.2v1.2h-1.2zM425.7 30.5h1.2v1.2h-1.2zM425.6 40.1h1.2v1.2h-1.2zM420.9 39.4h0.8v0.8h-0.8zM428.5 43.7h1v1h-1zM425.3 52.5h1.3v1.3h-1.3zM409.2 58.1h1.2v1.2h-1.2zM443.4 46.3h1.2v1.2h-1.2zM413.5 52.5h1.1v1.1h-1.1zM427.5 50.8h1.2v1.2h-1.2zM416.7 34.7h1.2v1.2h-1.2zM447.1 41.9h0.9v0.9h-0.9zM419.8 48.2h1.3v1.3h-1.3zM442.2 28.7h1v1h-1zM436 33.5h0.9v0.9h-0.9zM429.3 47.3h0.9v0.9h-0.9zM413 61.4h1.1v1.1h-1.1zM404.1 42.3h0.8v0.8h-0.8zM439.5 37.8h1.1v1.1h-1.1zM442.3 47.5h1.2v1.2h-1.2zM430.1 31.5h1.2v1.2h-1.2zM412.1 55.5h1.2v1.2h-1.2zM415.9 39.6h1.1v1.1h-1.1zM433.2 44h1.1v1.1h-1.1zM438.2 40.5h1.1v1.1h-1.1zM421 46.7h1.1v1.1h-1.1zM438.1 36.3h1.2v1.2h-1.2zM441 50.2h1.2v1.2h-1.2zM425.3 53.9h1.1v1.1h-1.1zM407.7 56.3h1.1v1.1h-1.1zM407.5 62h0.9v0.9h-0.9zM430.1 49.2h1v1h-1zM414.1 55.3h0.9v0.9h-0.9zM413.3 55.1h0.9v0.9h-0.9zM441.5 33.3h0.8v0.8h-0.8zM419.8 58.7h0.9v0.9h-0.9zM414.6 49.8h1.2v1.2h-1.2zM411.7 49.2h0.9v0.9h-0.9zM422.4 48.3h0.9v0.9h-0.9zM422.8 53.6h1.3v1.3h-1.3zM405.3 61.9h1.2v1.2h-1.2zM425.2 51.9h1.2v1.2h-1.2zM446.4 37.7h0.9v0.9h-0.9zM421.3 35.3h1.1v1.1h-1.1zM413.2 53.4h1.1v1.1h-1.1zM428.6 49.2h0.9v0.9h-0.9zM427.3 47.5h1.1v1.1h-1.1zM411.8 62.1h1.2v1.2h-1.2zM430.6 40.7h1.1v1.1h-1.1zM424.9 29.6h1.2v1.2h-1.2zM436 58.1h0.9v0.9h-0.9zM437.2 47.6h1.2v1.2h-1.2zM407.3 47.9h0.8v0.8h-0.8zM445.8 55h0.8v0.8h-0.8zM447.2 41.2h0.9v0.9h-0.9zM435.5 32.5h1.1v1.1h-1.1zM432.3 49.1h1.1v1.1h-1.1zM433.2 47.7h1.2v1.2h-1.2zM410.1 40.9h1.2v1.2h-1.2zM409.2 57.8h1v1h-1zM424.1 46.4h1.3v1.3h-1.3zM411.8 56.9h1.2v1.2h-1.2zM441 39.8h0.9v0.9h-0.9zM443.3 42.4h0.9v0.9h-0.9zM414.2 58.3h1.1v1.1h-1.1zM432.1 45.3h1v1h-1zM415.3 59.8h0.9v0.9h-0.9zM448.1 31.8h1.3v1.3h-1.3zM439.6 54h1.2v1.2h-1.2zM417.6 54.8h1.3v1.3h-1.3zM425.7 47h0.9v0.9h-0.9zM445 39.6h1.3v1.3h-1.3zM427 51h0.9v0.9h-0.9zM419 56.8h1.3v1.3h-1.3zM417.7 59.2h1v1h-1zM423.8 57.8h0.9v0.9h-0.9zM439.9 28.9h1.1v1.1h-1.1zM408 45.5h1.1v1.1h-1.1zM410.7 69.3h0.9v0.9h-0.9zM410.2 62.7h0.9v0.9h-0.9zM410.7 68.2h0.9v0.9h-0.9zM413.7 65.7h1.2v1.2h-1.2zM404.7 70.6h1v1h-1zM406.7 73.7h1.2v1.2h-1.2zM406.4 67.2h1v1h-1zM422.3 64.4h0.9v0.9h-0.9zM404.6 71.8h1.1v1.1h-1.1zM420.9 67h1.1v1.1h-1.1zM405.5 72.3h0.9v0.9h-0.9zM413.8 65.2h1.1v1.1h-1.1zM415.2 68.7h0.9v0.9h-0.9zM406.5 74h1.3v1.3h-1.3zM412.2 71.2h0.9v0.9h-0.9zM427.1 63.6h1.2v1.2h-1.2zM404 79.6h1.1v1.1h-1.1zM404.9 67.9h0.9v0.9h-0.9zM420.5 67.1h0.8v0.8h-0.8zM406 66.6h1.3v1.3h-1.3zM414.8 65.4h1.2v1.2h-1.2zM425.1 61.9h1v1h-1zM409.8 77.1h1.1v1.1h-1.1zM421.3 67.5h1.1v1.1h-1.1zM406.2 65.4h1.1v1.1h-1.1zM437 42.8h0.9v0.9h-0.9zM432.6 50.5h1.1v1.1h-1.1zM441.4 40.3h1v1h-1zM440.1 47.2h1v1h-1zM427.8 50.8h0.8v0.8h-0.8zM452 47h1v1h-1zM444.6 38.6h0.9v0.9h-0.9zM436.9 44.7h0.8v0.8h-0.8zM437.7 42.3h1.2v1.2h-1.2zM441.8 48.2h0.9v0.9h-0.9zM436 40.4h1.1v1.1h-1.1zM432.4 35.6h1.2v1.2h-1.2zM441.6 48.8h1.1v1.1h-1.1zM439.7 52.9h1.1v1.1h-1.1zM449.5 44.5h0.9v0.9h-0.9zM436.5 45.4h0.9v0.9h-0.9zM437 37h1.2v1.2h-1.2zM434.2 33.9h1.1v1.1h-1.1zM439.6 45.3h0.9v0.9h-0.9zM436.1 44.7h1v1h-1zM437.8 34.6h0.9v0.9h-0.9zM439.3 32.1h1.3v1.3h-1.3zM448.6 40.1h1.2v1.2h-1.2zM434.7 45.5h1.2v1.2h-1.2zM437.7 39.6h0.8v0.8h-0.8zM448.2 38.3h0.9v0.9h-0.9zM430.6 47.1h0.9v0.9h-0.9zM443.7 38h0.9v0.9h-0.9zM451.9 46.4h0.8v0.8h-0.8zM437.5 38.2h1.1v1.1h-1.1zM436.2 38.8h1.1v1.1h-1.1zM430.9 38.8h1v1h-1zM437.8 42.3h0.9v0.9h-0.9zM438.2 46.3h0.9v0.9h-0.9zM435.3 29.8h1.1v1.1h-1.1zM438.8 53.7h1.2v1.2h-1.2zM438.5 39.4h1.2v1.2h-1.2zM440.7 37.2h0.8v0.8h-0.8zM440.9 34.7h1.1v1.1h-1.1zM446.5 34.4h1.1v1.1h-1.1zM441.6 43h1.3v1.3h-1.3zM426.2 43.8h0.9v0.9h-0.9zM434.1 48.8h1.2v1.2h-1.2zM434.2 33.1h1v1h-1zM434.9 43.6h1.2v1.2h-1.2zM437.4 45.9h1v1h-1zM440.2 42.1h1.2v1.2h-1.2zM437.2 42.6h0.9v0.9h-0.9zM438.5 42.9h1.1v1.1h-1.1zM442.1 40.3h0.9v0.9h-0.9zM430.5 38.2h0.9v0.9h-0.9zM439.9 39.3h0.9v0.9h-0.9zM433.2 46.3h1.2v1.2h-1.2zM438 38.9h1.2v1.2h-1.2zM433.2 47.1h1.2v1.2h-1.2zM444.3 42.2h0.9v0.9h-0.9zM438.7 40.1h1v1h-1zM448.3 43.5h1.2v1.2h-1.2zM435.9 38.5h1v1h-1zM438.3 42.7h0.9v0.9h-0.9zM448.1 43.3h0.9v0.9h-0.9zM438.2 31.1h1.1v1.1h-1.1zM443.5 38.1h0.9v0.9h-0.9zM435.5 36.2h1.1v1.1h-1.1zM437 40.7h0.9v0.9h-0.9zM435.1 28.5h1.2v1.2h-1.2zM436.8 38.1h1.2v1.2h-1.2zM437.1 47.6h0.9v0.9h-0.9zM433.5 46h0.9v0.9h-0.9zM443.4 40.5h1.1v1.1h-1.1zM438.3 46.1h0.9v0.9h-0.9zM431.4 32.4h1.3v1.3h-1.3zM476.9 38.5h1.3v1.3h-1.3zM452.6 41.2h0.8v0.8h-0.8zM470.3 39.2h1.2v1.2h-1.2zM451.6 48.4h0.8v0.8h-0.8zM449 32.5h1.1v1.1h-1.1zM451.4 44.8h1.3v1.3h-1.3zM452.1 48.4h0.9v0.9h-0.9zM459.1 43.7h1v1h-1zM463.3 43.4h1.1v1.1h-1.1zM450.3 47.4h1.1v1.1h-1.1zM474.5 39.1h1.3v1.3h-1.3zM453.2 41.1h1.2v1.2h-1.2zM451.8 46.7h0.8v0.8h-0.8zM453.8 46.9h1v1h-1zM449.3 34.7h1.1v1.1h-1.1zM452.9 42.7h1.1v1.1h-1.1zM465.6 37.7h1v1h-1zM458.9 41.2h0.9v0.9h-0.9zM457.5 40.8h1.3v1.3h-1.3zM462.4 37.3h1v1h-1zM461 42.6h1v1h-1zM464.1 40h1.2v1.2h-1.2zM469.6 36.2h0.9v0.9h-0.9zM448.7 42.6h1.1v1.1h-1.1zM474 37.1h1v1h-1zM460.1 36.9h1.2v1.2h-1.2zM469.6 40.3h1.2v1.2h-1.2zM459 46.1h0.9v0.9h-0.9zM449.3 42.7h0.9v0.9h-0.9zM449.5 45.7h1.2v1.2h-1.2zM476.1 37h1.2v1.2h-1.2z" fill="#5a1422"/>
<path d="M441.6 43.6h0.9v0.9h-0.9zM432.6 58.1h1.2v1.2h-1.2zM434.2 28.4h1.1v1.1h-1.1zM442.9 43.5h1.2v1.2h-1.2zM447.4 42.1h1v1h-1zM430.3 59.5h1.3v1.3h-1.3zM444.7 47.1h0.9v0.9h-0.9zM431.7 27.7h1v1h-1zM424.7 45.2h1.1v1.1h-1.1zM448 45.3h0.8v0.8h-0.8zM432.4 28.2h1v1h-1zM434.6 39h1.2v1.2h-1.2zM415.3 42.9h1v1h-1zM417.5 40h0.8v0.8h-0.8zM427.8 33.1h1.2v1.2h-1.2zM412.3 36.3h1.1v1.1h-1.1zM437.5 57h1.1v1.1h-1.1zM430.5 36.6h0.8v0.8h-0.8zM411.7 37.1h1.1v1.1h-1.1zM422.6 60.7h1v1h-1zM419.8 33.3h1.2v1.2h-1.2zM419.8 49.9h1v1h-1zM420.8 48.4h1v1h-1zM424.7 35.1h1.1v1.1h-1.1zM433.8 58.8h1.1v1.1h-1.1zM409.5 57.2h1.2v1.2h-1.2zM446.9 47.4h0.8v0.8h-0.8zM438.5 44.9h0.9v0.9h-0.9zM406.8 38h1.2v1.2h-1.2zM415.2 48.8h1v1h-1zM437.6 31.9h1.2v1.2h-1.2zM418.2 34.6h1.3v1.3h-1.3zM442.5 40.8h1.3v1.3h-1.3zM417.1 39.2h1.1v1.1h-1.1zM447 40.5h0.9v0.9h-0.9zM447.3 50.9h0.9v0.9h-0.9zM426.2 39h1.1v1.1h-1.1zM429.5 32.7h1.1v1.1h-1.1zM412.1 58.9h0.9v0.9h-0.9zM430.9 46.5h1v1h-1zM438 46.1h1v1h-1zM426.7 35.1h1v1h-1zM419 40.9h1.2v1.2h-1.2zM422.7 53.5h1.2v1.2h-1.2zM446.7 40.2h1.1v1.1h-1.1zM433.8 44.2h1v1h-1zM433.1 42.4h1.3v1.3h-1.3zM444.1 31h1.1v1.1h-1.1zM445.7 52.5h1v1h-1zM442.8 42.2h1v1h-1zM411.2 44.4h1.1v1.1h-1.1zM424.2 41.1h0.8v0.8h-0.8zM425.4 32.1h1v1h-1zM436.7 36.2h1v1h-1zM447.8 43.6h1.3v1.3h-1.3zM437.3 53.2h1.1v1.1h-1.1zM436.4 48.4h1v1h-1zM425.9 31.7h0.8v0.8h-0.8zM425 54.1h0.8v0.8h-0.8zM414.7 57.2h1.2v1.2h-1.2zM447 29.9h0.9v0.9h-0.9zM410.9 49.8h0.8v0.8h-0.8zM422.9 54.9h1.2v1.2h-1.2zM414 56.7h1.1v1.1h-1.1zM424.1 30.1h1.1v1.1h-1.1zM440.7 33.6h1v1h-1zM407.2 46.4h1v1h-1zM431.5 60.5h1v1h-1zM446.7 43.9h1v1h-1zM419.5 53.5h0.9v0.9h-0.9zM410.9 54.2h1.3v1.3h-1.3zM417.4 35h0.8v0.8h-0.8zM409.9 45.6h0.9v0.9h-0.9zM431.6 27.1h1.1v1.1h-1.1zM425.9 36.4h1.3v1.3h-1.3zM427.7 53.5h1.1v1.1h-1.1zM425.7 35.9h0.8v0.8h-0.8zM419.5 53.7h1.1v1.1h-1.1zM441.5 33.4h1.3v1.3h-1.3zM404.6 58.2h1.3v1.3h-1.3zM434.8 45.4h0.8v0.8h-0.8zM420.5 33.9h1.2v1.2h-1.2zM423.4 58.1h1v1h-1zM433.3 58.4h0.9v0.9h-0.9zM413.9 39.7h0.9v0.9h-0.9zM428.2 60.1h1.2v1.2h-1.2zM427 42h1.1v1.1h-1.1zM407.8 42.3h1.3v1.3h-1.3zM418.9 41.5h1.2v1.2h-1.2zM405.2 60.6h1.1v1.1h-1.1zM425.1 57.7h0.9v0.9h-0.9zM448.2 50.5h0.9v0.9h-0.9zM431.9 39.1h1.3v1.3h-1.3zM413.9 42.4h0.9v0.9h-0.9zM435.5 34h1.1v1.1h-1.1zM416.1 59.3h0.9v0.9h-0.9zM425.7 32.6h1v1h-1zM442.3 43.7h1.2v1.2h-1.2zM424.1 44.2h1.2v1.2h-1.2zM415.2 51.8h1v1h-1zM447.3 32.9h1.1v1.1h-1.1zM408.4 52h0.9v0.9h-0.9zM437.5 44.7h1v1h-1zM440.2 35.5h1.1v1.1h-1.1zM411.1 62.3h1v1h-1zM437.2 31.5h1.1v1.1h-1.1zM431.5 35.7h0.8v0.8h-0.8zM440.1 40.4h1v1h-1zM408.3 37.7h1.1v1.1h-1.1zM419.3 33.3h0.9v0.9h-0.9zM438.3 48.3h1.2v1.2h-1.2zM437.5 45.6h1.1v1.1h-1.1zM432.4 29.1h1.1v1.1h-1.1zM437.8 39.5h0.9v0.9h-0.9zM413 40.6h1.2v1.2h-1.2zM417.6 34h1.1v1.1h-1.1zM446 53.9h0.8v0.8h-0.8zM438 42.7h1.2v1.2h-1.2zM441.4 36.4h0.8v0.8h-0.8zM446.2 33.9h1.2v1.2h-1.2zM431.9 54.4h0.8v0.8h-0.8zM423.7 40.4h1.1v1.1h-1.1zM418.3 38.4h1.2v1.2h-1.2zM445.8 53h1v1h-1zM433.2 43h1.1v1.1h-1.1zM431.8 44.3h1v1h-1zM441.4 33.1h0.9v0.9h-0.9zM417 50.4h1.1v1.1h-1.1zM428.9 39.4h1v1h-1zM432.6 28.3h0.9v0.9h-0.9zM406.6 60.1h1.3v1.3h-1.3zM421.8 58.5h1.1v1.1h-1.1zM420 44.8h1.2v1.2h-1.2zM420.6 39.1h0.9v0.9h-0.9zM411.4 56.6h1.3v1.3h-1.3zM413.5 54h1.2v1.2h-1.2zM427.5 39.8h1v1h-1zM429.7 61h1.1v1.1h-1.1zM439.7 49.1h1v1h-1zM431.9 30.6h0.9v0.9h-0.9zM411.3 57.7h1.2v1.2h-1.2zM423 58.8h1v1h-1zM438.7 30.3h1.2v1.2h-1.2zM430.5 38.9h1.2v1.2h-1.2zM406.1 52h1v1h-1zM406.7 58.1h1.2v1.2h-1.2zM429 58.4h1.1v1.1h-1.1zM408.9 58.7h0.8v0.8h-0.8zM432.4 57.6h1.2v1.2h-1.2zM435 33.9h1.3v1.3h-1.3zM421.5 61.6h1.3v1.3h-1.3zM427.7 53.9h0.9v0.9h-0.9zM444.9 55.4h0.9v0.9h-0.9zM448.3 45.7h1v1h-1zM436 48.4h1.2v1.2h-1.2zM407.6 61.8h0.9v0.9h-0.9zM421.1 44.3h0.9v0.9h-0.9zM425.5 45.2h1v1h-1zM407.7 56.3h0.8v0.8h-0.8zM432.2 56.8h0.9v0.9h-0.9zM435.8 33.2h1.1v1.1h-1.1zM427.5 39.5h0.9v0.9h-0.9zM422.7 57.6h0.9v0.9h-0.9zM411.7 74.7h0.8v0.8h-0.8zM418.8 67.4h1v1h-1zM409.8 73h1v1h-1zM423.5 65.3h0.9v0.9h-0.9zM411.8 65.2h1v1h-1zM414.5 72.7h1.2v1.2h-1.2zM425.8 65.4h1.3v1.3h-1.3zM417.2 63.7h1.2v1.2h-1.2zM414 72.4h1.3v1.3h-1.3zM411.8 66.5h1v1h-1zM408.3 68.8h1v1h-1zM419.1 63.5h1.3v1.3h-1.3zM413.8 66.2h1.3v1.3h-1.3zM404.3 65.1h1v1h-1zM423.6 64.3h1.2v1.2h-1.2zM406 65h1v1h-1zM426.6 61.9h1.2v1.2h-1.2zM435.7 41.7h0.9v0.9h-0.9zM443.3 40.3h1v1h-1zM425.7 29.7h0.8v0.8h-0.8zM441.3 44.9h0.9v0.9h-0.9zM441.7 39.5h1.1v1.1h-1.1zM438.4 48h0.9v0.9h-0.9zM441.3 47.3h1v1h-1zM434.1 46.4h1.2v1.2h-1.2zM435.6 47.7h1.2v1.2h-1.2zM438.7 33.6h1.1v1.1h-1.1zM429 38.6h0.9v0.9h-0.9zM435 47.8h1.1v1.1h-1.1zM432.5 41h1.3v1.3h-1.3zM443.3 40h1.2v1.2h-1.2zM434.9 38.1h0.8v0.8h-0.8zM442.7 36.6h1.3v1.3h-1.3zM437.4 49.5h0.9v0.9h-0.9zM441.3 47.2h1.1v1.1h-1.1zM429.9 33.7h1v1h-1zM431.1 47.5h1v1h-1zM435.7 41.5h1v1h-1zM434.9 47.9h1.2v1.2h-1.2zM431.8 43h1v1h-1zM428 47h1.1v1.1h-1.1zM433.8 41.2h0.8v0.8h-0.8zM444.8 39.4h1.3v1.3h-1.3zM448.1 45.3h0.9v0.9h-0.9zM439.7 36.7h0.9v0.9h-0.9zM446.9 41.9h0.8v0.8h-0.8zM434.8 41.9h1.3v1.3h-1.3zM438.3 41.4h1.3v1.3h-1.3zM446 47.8h1v1h-1zM438.4 46.1h1v1h-1zM439.7 34.7h0.8v0.8h-0.8zM446 42.5h0.9v0.9h-0.9zM438.6 50.3h0.9v0.9h-0.9zM447.5 41.4h1v1h-1zM444.3 40.9h1.3v1.3h-1.3zM447.1 49.1h1v1h-1zM435.1 46.1h0.8v0.8h-0.8zM437.7 50.8h1v1h-1zM450.5 43.8h0.9v0.9h-0.9zM435.6 39.4h1v1h-1zM430.9 42.6h0.9v0.9h-0.9zM431 43.5h1.1v1.1h-1.1zM441.5 29.7h1v1h-1zM443.6 42.2h1.2v1.2h-1.2zM443.8 38.5h0.9v0.9h-0.9zM453.7 39h1.3v1.3h-1.3zM465.4 35.8h0.9v0.9h-0.9zM471.8 35.6h0.8v0.8h-0.8zM458 39.9h0.9v0.9h-0.9zM451.7 38.7h1.1v1.1h-1.1zM454.6 43.5h1.2v1.2h-1.2zM456.5 45.1h1.1v1.1h-1.1zM450.3 35.8h1v1h-1zM460.7 39.4h1.1v1.1h-1.1zM453.5 37.9h1v1h-1zM458.3 39.2h1.1v1.1h-1.1zM467.7 37.4h1.1v1.1h-1.1zM475.9 37.7h0.9v0.9h-0.9zM456.9 39.9h1.1v1.1h-1.1zM451.8 38.4h0.9v0.9h-0.9zM452.1 39.3h0.8v0.8h-0.8zM472.5 40h1.2v1.2h-1.2zM457.1 38.6h1v1h-1zM452.3 48.5h1.1v1.1h-1.1zM455.2 33.6h0.9v0.9h-0.9zM451.7 32.7h1v1h-1zM468.1 35.6h1.1v1.1h-1.1z" fill="#8a4a58"/>
<path d="M415.7 34.7h1v1h-1zM434.2 32h1.3v1.3h-1.3zM417.2 54.4h0.8v0.8h-0.8zM418.1 61.5h1v1h-1zM429.2 48.9h1.1v1.1h-1.1zM441.5 42.2h0.9v0.9h-0.9zM419.2 50.1h1v1h-1zM422.9 41.2h0.9v0.9h-0.9zM404.2 60.9h1.3v1.3h-1.3zM423.5 61.2h0.9v0.9h-0.9zM444.7 51.7h1.2v1.2h-1.2zM411.7 55.3h1.2v1.2h-1.2zM446.1 39.8h1.2v1.2h-1.2zM407.7 44.5h1v1h-1zM412.4 52.1h1.2v1.2h-1.2zM444.9 29.6h1v1h-1zM416 40.2h0.8v0.8h-0.8zM434.9 37.1h1v1h-1zM435.3 31h1.1v1.1h-1.1zM406.4 50.2h0.9v0.9h-0.9zM417.7 48.5h0.8v0.8h-0.8zM419 51.2h0.9v0.9h-0.9zM443.3 42.6h1.2v1.2h-1.2zM445.9 52.9h1.3v1.3h-1.3zM416.8 43.1h1.2v1.2h-1.2zM438.6 43.2h1.2v1.2h-1.2zM432.2 51h1.2v1.2h-1.2zM432.9 59.2h1v1h-1zM440.1 42.7h0.9v0.9h-0.9zM433 33.2h0.9v0.9h-0.9zM442.2 32.6h1.2v1.2h-1.2zM448 41.1h0.9v0.9h-0.9zM420.1 48.2h1.3v1.3h-1.3zM427.9 58.4h1.1v1.1h-1.1zM441.3 57h1v1h-1zM434.7 30.5h1v1h-1zM423.6 29.6h1.1v1.1h-1.1zM425.6 41.6h1.2v1.2h-1.2zM413.7 56.4h0.9v0.9h-0.9zM443.8 46h1.2v1.2h-1.2zM428.2 60.2h1.1v1.1h-1.1zM416.4 37.6h0.9v0.9h-0.9zM426.7 61.3h1.2v1.2h-1.2zM429 53.6h0.9v0.9h-0.9zM427.3 38.1h0.9v0.9h-0.9zM404.2 52.2h1.3v1.3h-1.3zM407.1 51h1v1h-1zM433.3 53.5h1v1h-1zM426.6 35.4h1.1v1.1h-1.1zM445.2 33.2h1.2v1.2h-1.2zM410.2 54.7h0.9v0.9h-0.9zM418.3 40.3h0.9v0.9h-0.9zM446.2 34.5h1v1h-1zM411 61.8h1.3v1.3h-1.3zM429.9 26.9h1v1h-1zM428.3 57h1.2v1.2h-1.2zM412.6 45.8h0.9v0.9h-0.9zM430.4 30.7h1v1h-1zM430.3 44.4h1.1v1.1h-1.1zM416.9 35.2h1.2v1.2h-1.2zM435.4 48.9h0.9v0.9h-0.9zM443.6 53.4h1.1v1.1h-1.1zM443.8 47.7h1.2v1.2h-1.2zM420 37.2h1.1v1.1h-1.1zM427.3 36.6h1.2v1.2h-1.2zM433.2 53.8h0.9v0.9h-0.9zM440.6 39.2h1v1h-1zM438.5 32.2h1v1h-1zM424.7 30.5h1.1v1.1h-1.1zM414.2 58.8h0.9v0.9h-0.9zM409.6 55.6h1.2v1.2h-1.2zM435.6 49.2h0.8v0.8h-0.8zM419.9 50.2h1.2v1.2h-1.2zM413.2 52.4h0.8v0.8h-0.8zM442.2 37.2h1.2v1.2h-1.2zM419.3 43.6h0.9v0.9h-0.9zM412.6 56.4h1.1v1.1h-1.1zM406.1 42.8h1v1h-1zM418 37.9h0.8v0.8h-0.8zM422.4 66.6h1v1h-1zM407.1 80.3h1.2v1.2h-1.2zM423.5 63.2h1v1h-1zM410.6 65.2h1.3v1.3h-1.3zM407.6 78.1h0.9v0.9h-0.9zM406.5 66.7h1.2v1.2h-1.2zM407.7 69.5h1.2v1.2h-1.2zM409.8 74.4h1.1v1.1h-1.1zM419.4 68.7h1v1h-1zM415.3 65.1h1.2v1.2h-1.2zM411.6 65.7h1.3v1.3h-1.3zM411.4 72h0.8v0.8h-0.8zM407 67.3h1v1h-1zM423.8 45.4h1v1h-1zM429.7 40.6h0.9v0.9h-0.9zM440.6 27.5h0.9v0.9h-0.9zM448.2 48h1.1v1.1h-1.1zM450.4 44.7h1.2v1.2h-1.2zM430.3 47.4h0.9v0.9h-0.9zM429.2 44.3h1.3v1.3h-1.3zM440.7 31.5h0.9v0.9h-0.9zM444.7 49.9h1.1v1.1h-1.1zM445.3 53.4h0.9v0.9h-0.9zM437.1 44.7h1.2v1.2h-1.2zM438 38.7h1.1v1.1h-1.1zM421 46.4h1.1v1.1h-1.1zM435.7 42.1h1.1v1.1h-1.1zM438.4 38.4h0.9v0.9h-0.9zM427.6 47.1h1.2v1.2h-1.2zM430 47.4h1.3v1.3h-1.3zM437.4 43.5h0.8v0.8h-0.8zM431.7 44.9h1v1h-1zM435.9 49.8h1v1h-1zM473.2 37.2h1v1h-1zM455.2 39h1.2v1.2h-1.2zM458.1 45h0.9v0.9h-0.9zM471.2 40.6h1.2v1.2h-1.2zM457 35.4h0.8v0.8h-0.8zM469.9 40.8h1v1h-1zM455 43.6h0.9v0.9h-0.9z" fill="#b89aa0"/>
<path d="M445.3 221.7h1.1v1.1h-1.1zM427.3 222.3h0.8v0.8h-0.8zM441.3 226.3h0.9v0.9h-0.9zM456.9 220.9h0.9v0.9h-0.9zM437.1 226.2h1.1v1.1h-1.1zM454.6 225h1.1v1.1h-1.1zM441.1 225.6h1v1h-1zM443.1 224.6h1.2v1.2h-1.2zM455.6 220.8h1.1v1.1h-1.1zM426.8 222.6h0.9v0.9h-0.9zM428.1 225.7h0.9v0.9h-0.9zM440.1 226.7h1v1h-1zM426 236.5h1.2v1.2h-1.2zM467.4 231.7h0.9v0.9h-0.9zM409.2 236.5h1.1v1.1h-1.1zM462.3 243.4h1v1h-1zM415.3 240.4h0.8v0.8h-0.8zM421.7 231.9h0.8v0.8h-0.8zM415.2 235.5h1.2v1.2h-1.2zM446.5 231.7h1v1h-1zM437.4 237.7h0.9v0.9h-0.9zM461.7 241.5h1v1h-1zM422.8 238.3h0.8v0.8h-0.8zM410.7 234h1.1v1.1h-1.1zM467.3 235.6h0.9v0.9h-0.9zM454.8 237.6h1.2v1.2h-1.2zM430.4 238.9h0.8v0.8h-0.8zM424.4 234.3h1.1v1.1h-1.1zM424.8 236.5h1.3v1.3h-1.3zM409.2 243.4h1v1h-1zM453.2 239h1.1v1.1h-1.1zM442.9 243.1h1.1v1.1h-1.1zM416.4 237h0.9v0.9h-0.9zM422.4 246.1h1v1h-1zM469.4 244h1v1h-1zM440.5 235.1h1v1h-1zM442.8 236.9h1v1h-1zM447.1 238.2h1.3v1.3h-1.3zM415.4 233.8h1.2v1.2h-1.2zM459 233.7h1.3v1.3h-1.3zM443.8 241.6h0.8v0.8h-0.8zM451 236.7h1.3v1.3h-1.3zM447.7 243.4h1.2v1.2h-1.2zM442.7 245.7h0.9v0.9h-0.9zM441.1 233.3h0.9v0.9h-0.9zM412.1 232.6h1v1h-1zM453.7 238.9h1v1h-1zM439.2 244h1.1v1.1h-1.1zM433.7 235.3h0.9v0.9h-0.9zM413.3 242.3h0.9v0.9h-0.9zM426.2 233.4h1v1h-1zM418.6 237h1.3v1.3h-1.3zM468.3 238.8h1.3v1.3h-1.3zM427.9 235.4h1v1h-1zM438 238h1.1v1.1h-1.1zM463.1 230.4h1v1h-1zM463.6 228.2h0.9v0.9h-0.9zM473 235.9h1v1h-1zM473.3 235.3h1.1v1.1h-1.1zM466.2 228.3h1v1h-1zM418.6 241.1h0.9v0.9h-0.9zM428.4 253.1h1v1h-1zM406.1 253.2h1.1v1.1h-1.1zM404.1 244.8h1.2v1.2h-1.2zM410.5 246h0.8v0.8h-0.8zM402.9 251.7h1.3v1.3h-1.3zM421.8 249h0.8v0.8h-0.8zM404.9 242.3h1.3v1.3h-1.3zM413 242h0.8v0.8h-0.8zM409.9 241.3h0.9v0.9h-0.9zM412 247.3h1v1h-1zM407.9 243.5h1v1h-1zM428.2 243.5h0.9v0.9h-0.9zM401.1 251h1.3v1.3h-1.3zM416.1 260.5h0.9v0.9h-0.9zM415.9 271.6h0.8v0.8h-0.8zM413.1 268.3h0.9v0.9h-0.9zM415 252.3h1v1h-1zM422.1 265.3h0.9v0.9h-0.9zM405.7 253h1v1h-1zM420.5 258.5h1.2v1.2h-1.2zM403.7 263h1.3v1.3h-1.3zM403.5 253.5h1v1h-1zM423.3 261.2h1.3v1.3h-1.3zM409.3 261.3h0.8v0.8h-0.8zM401.2 265.3h1.3v1.3h-1.3zM406.6 272.1h0.9v0.9h-0.9zM415.2 261.2h1v1h-1zM419.6 254.2h1.2v1.2h-1.2zM406.2 253.8h1.1v1.1h-1.1zM406.6 254.4h1v1h-1zM417.7 264.5h1v1h-1z" fill="#6a3a44"/>
<path d="M437.7 219.5h0.8v0.8h-0.8zM446.8 222h0.8v0.8h-0.8zM449 221.7h0.8v0.8h-0.8zM428.1 220.1h1v1h-1zM437.3 223.9h0.9v0.9h-0.9zM444.9 226.8h0.9v0.9h-0.9zM427.4 224.7h1.1v1.1h-1.1zM457.5 221.1h1.1v1.1h-1.1zM446.9 222.6h1.3v1.3h-1.3zM445.8 226.8h1.2v1.2h-1.2zM423.2 237.7h0.9v0.9h-0.9zM467.1 241.4h1.1v1.1h-1.1zM450.2 230h1.2v1.2h-1.2zM431.2 231.2h1.3v1.3h-1.3zM429.9 233.8h0.9v0.9h-0.9zM410.4 246.1h0.9v0.9h-0.9zM442.1 229.5h1.3v1.3h-1.3zM419.2 242.9h1.2v1.2h-1.2zM429.1 233h1.3v1.3h-1.3zM461 243.5h1.2v1.2h-1.2zM467.3 237.1h1.3v1.3h-1.3zM421 232.7h1.3v1.3h-1.3zM460.3 237.6h1.2v1.2h-1.2zM414.2 240.9h1.2v1.2h-1.2zM429.3 243.4h1v1h-1zM433.5 246h0.9v0.9h-0.9zM416.7 231.7h1.2v1.2h-1.2zM417.9 243.9h1.1v1.1h-1.1zM468.2 240.7h1.3v1.3h-1.3zM435.5 244.7h0.9v0.9h-0.9zM430.6 237.2h1.3v1.3h-1.3zM434.7 245.5h1.1v1.1h-1.1zM440.9 229.3h0.9v0.9h-0.9zM424.2 234h1.1v1.1h-1.1zM443.3 242.7h1v1h-1zM446.4 238.1h1.1v1.1h-1.1zM436.6 238.6h1.3v1.3h-1.3zM451.7 244.8h0.9v0.9h-0.9zM443.1 246h0.9v0.9h-0.9zM413.5 241.1h1.2v1.2h-1.2zM418.4 241.9h0.9v0.9h-0.9zM425.5 231.3h1.3v1.3h-1.3zM413.1 244.5h1v1h-1zM455.3 234.2h0.9v0.9h-0.9zM466 230.9h1v1h-1zM429.9 244h1.1v1.1h-1.1zM414.2 244.1h1.1v1.1h-1.1zM471.2 232.8h1.1v1.1h-1.1zM476.8 229.3h1.1v1.1h-1.1zM463.6 235.5h1.1v1.1h-1.1zM470.1 235.5h1.2v1.2h-1.2zM471.2 236h1.1v1.1h-1.1zM464.5 235.5h1.1v1.1h-1.1zM471.8 234.1h0.8v0.8h-0.8zM474.2 234.7h1.1v1.1h-1.1zM472.2 228.6h0.9v0.9h-0.9zM402.2 243.7h0.9v0.9h-0.9zM421.5 253.7h1v1h-1zM413.9 249.6h1.1v1.1h-1.1zM421.6 244.3h0.8v0.8h-0.8zM401.8 243.8h1.1v1.1h-1.1zM419.6 244.1h1v1h-1zM413.5 241.7h0.9v0.9h-0.9zM423.8 253.6h0.9v0.9h-0.9zM404.1 247.3h0.9v0.9h-0.9zM423.8 247.1h1.2v1.2h-1.2zM406.7 252.6h0.8v0.8h-0.8zM400.1 246.9h1v1h-1zM400.1 250.5h0.9v0.9h-0.9zM426.9 250h0.9v0.9h-0.9zM410.8 245.5h1.1v1.1h-1.1zM407.2 243.7h0.9v0.9h-0.9zM410.8 253.4h1.2v1.2h-1.2zM418.3 252.8h1.1v1.1h-1.1zM420.9 240.7h1v1h-1zM426.9 241.8h1v1h-1zM408.6 250.3h0.9v0.9h-0.9zM419 244.2h1v1h-1zM414.4 243.1h1.3v1.3h-1.3zM416.5 252.4h1v1h-1zM401.8 243.9h0.9v0.9h-0.9zM414.6 248.8h0.9v0.9h-0.9zM427.7 251.9h0.8v0.8h-0.8zM400.9 249.9h1v1h-1zM411.4 253h1.2v1.2h-1.2zM415.1 249.5h1.2v1.2h-1.2zM418.8 250.7h1.1v1.1h-1.1zM407.7 252.6h1.1v1.1h-1.1zM410.5 259.2h1.3v1.3h-1.3zM417.1 257.5h1.2v1.2h-1.2zM412.6 257.7h1v1h-1zM407.4 278.7h0.9v0.9h-0.9zM405.6 263.7h1.3v1.3h-1.3zM418.7 252.9h1v1h-1zM407 261.8h0.9v0.9h-0.9zM408.9 275h1v1h-1zM404.8 262.2h0.8v0.8h-0.8zM410.3 274.7h0.8v0.8h-0.8zM400.9 253.8h0.9v0.9h-0.9zM408.5 259.6h1.1v1.1h-1.1zM400.1 273.2h1.1v1.1h-1.1zM405.8 265.3h1.3v1.3h-1.3zM409.7 259h1v1h-1zM408.1 279.4h1.3v1.3h-1.3z" fill="#9a848a"/>
<ellipse cx="242.5" cy="45" rx="1.05" ry="2.05" fill="#a08e93"/>
<ellipse cx="260.8" cy="50.5" rx="1.05" ry="2.05" fill="#7a3440"/>
<ellipse cx="260.8" cy="53.3" rx="1.05" ry="2.05" fill="#7a3440"/>
<ellipse cx="272" cy="53.3" rx="1.05" ry="2.05" fill="#7a3440"/>
<ellipse cx="256.8" cy="77.7" rx="1.05" ry="2.05" fill="#5a161c"/>
<ellipse cx="264.4" cy="80" rx="1.05" ry="2.05" fill="#5a161c"/>
<ellipse cx="279.7" cy="84.7" rx="1.05" ry="2.05" fill="#5a161c"/>
<ellipse cx="268.2" cy="95.2" rx="1.05" ry="2.05" fill="#5a161c"/>
<ellipse cx="268.5" cy="22" rx="1.05" ry="2.05" fill="#5a161c"/>
<ellipse cx="292" cy="28" rx="1.05" ry="2.05" fill="#5a161c"/>
<ellipse cx="621.3" cy="23" rx="1.05" ry="2.05" fill="#a08e93"/>
<ellipse cx="602.9" cy="40.9" rx="1.05" ry="2.05" fill="#5a161c"/>
<ellipse cx="613.4" cy="43.3" rx="1.05" ry="2.05" fill="#a08e93"/>
<ellipse cx="610.8" cy="49.5" rx="1.05" ry="2.05" fill="#a08e93"/>
<ellipse cx="595.5" cy="52.9" rx="1.05" ry="2.05" fill="#5a161c"/>
<ellipse cx="593.1" cy="58.4" rx="1.05" ry="2.05" fill="#5a161c"/>
<ellipse cx="606.2" cy="67.8" rx="1.05" ry="2.05" fill="#a08e93"/>
<ellipse cx="595.9" cy="77.7" rx="1.05" ry="2.05" fill="#7a3440"/>
<ellipse cx="601.9" cy="79.3" rx="1.05" ry="2.05" fill="#a08e93"/>
<ellipse cx="593.5" cy="93.2" rx="1.05" ry="2.05" fill="#7a3440"/>
<ellipse cx="246.2" cy="214.6" rx="1.05" ry="2.05" fill="#a08e93"/>
<ellipse cx="248.4" cy="222.6" rx="1.05" ry="2.05" fill="#a08e93"/>
<ellipse cx="250.8" cy="227" rx="1.05" ry="2.05" fill="#a08e93"/>
<ellipse cx="258.7" cy="222" rx="1.05" ry="2.05" fill="#a08e93"/>
<ellipse cx="262" cy="240.5" rx="1.05" ry="2.05" fill="#5a161c"/>
<ellipse cx="272.3" cy="240.1" rx="1.05" ry="2.05" fill="#5a161c"/>
<ellipse cx="274" cy="241.3" rx="1.05" ry="2.05" fill="#5a161c"/>
<ellipse cx="248.4" cy="245.8" rx="1.05" ry="2.05" fill="#5a161c"/>
<ellipse cx="255.2" cy="253.8" rx="1.05" ry="2.05" fill="#5a161c"/>
<ellipse cx="223.9" cy="266.2" rx="1.05" ry="2.05" fill="#7a5a60"/>
<ellipse cx="601.8" cy="220.7" rx="1.05" ry="2.05" fill="#a08e93"/>
<ellipse cx="604.5" cy="219.5" rx="1.05" ry="2.05" fill="#a08e93"/>
<ellipse cx="592.7" cy="238.4" rx="1.05" ry="2.05" fill="#a86a76"/>
<ellipse cx="594.5" cy="237.3" rx="1.05" ry="2.05" fill="#a86a76"/>
<ellipse cx="596.8" cy="236.4" rx="1.05" ry="2.05" fill="#a86a76"/>
<ellipse cx="583" cy="245.2" rx="1.05" ry="2.05" fill="#5a161c"/>
<ellipse cx="589" cy="245.9" rx="1.05" ry="2.05" fill="#7a3440"/>
<ellipse cx="578" cy="253.6" rx="1.05" ry="2.05" fill="#5a161c"/>
<ellipse cx="621.6" cy="271.8" rx="1.05" ry="2.05" fill="#5a161c"/>
<ellipse cx="621.6" cy="280" rx="1.05" ry="2.05" fill="#5a161c"/>
<g><text x="1.5" y="149.4">ALL2, all solutions with</text><text x="35.5" y="164.8">Recall≥0.8</text><text x="193.3" y="149.5">ALL2, best 10 solutions</text><text x="367.8" y="149.5">CNS, all solutions with</text><text x="400" y="165">Recall≥0.8</text><text x="551.6" y="149.4">CNS, best 10 solutions</text><text x="1.1" y="336.1">Adeno, all solutions with</text><text x="36.9" y="351.3">Recall≥0.9</text><text x="193.7" y="336.2">Adeno, best 10 solutions</text><text x="367.8" y="336.2">DLBCL, all solutions with</text><text x="407.2" y="351">Recall≥0.9</text><text x="547.5" y="332.2">DLBCL, best 10 solutions</text></g>
</svg>
</body></html>
